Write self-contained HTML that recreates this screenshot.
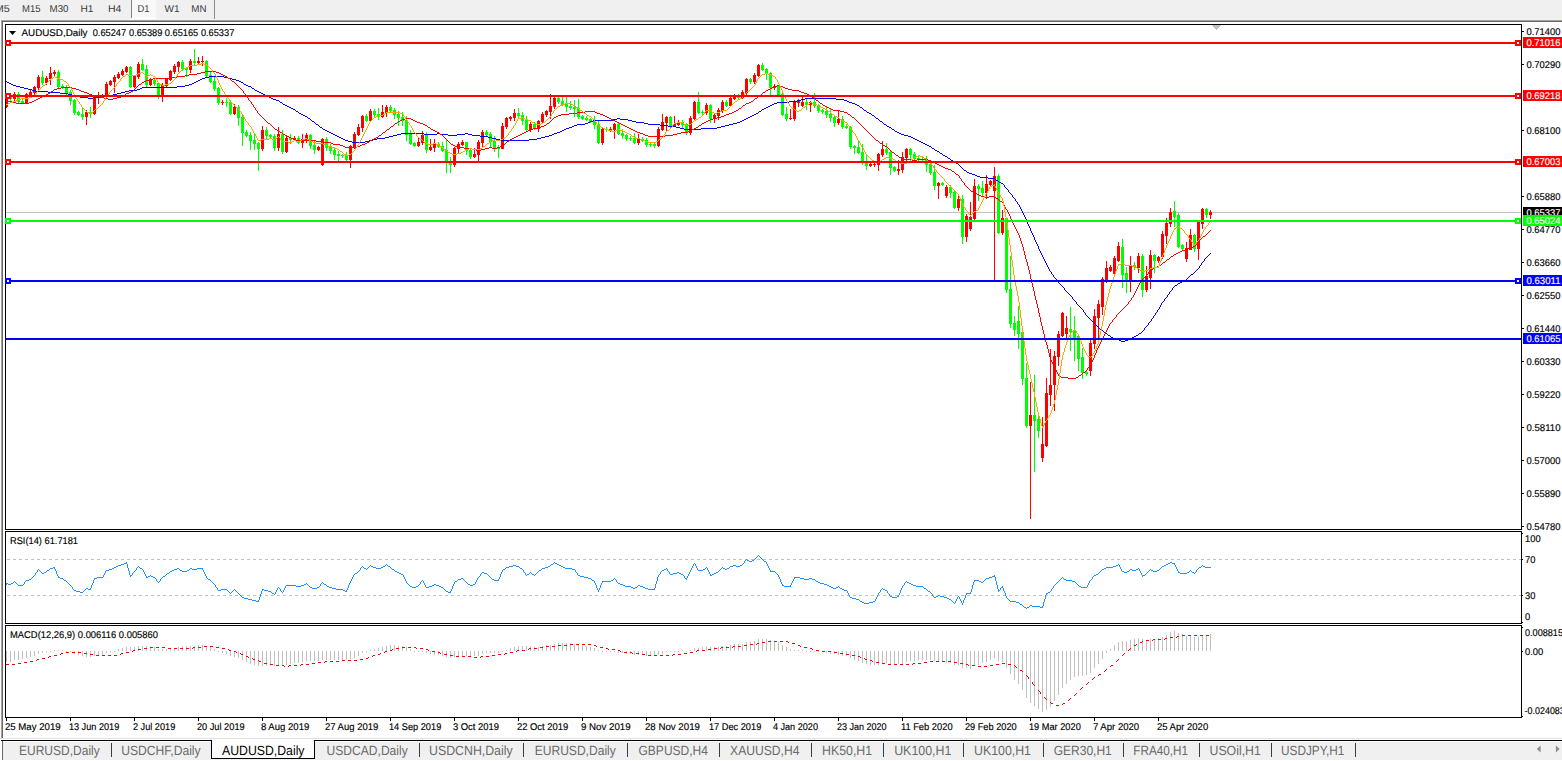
<!DOCTYPE html><html><head><meta charset="utf-8"><title>AUDUSD,Daily</title><style>
html,body{margin:0;padding:0}body{width:1562px;height:761px;overflow:hidden;position:relative;background:#fff;font-family:"Liberation Sans",sans-serif}
.tb{position:absolute;left:0;top:0;width:1562px;height:19px;background:#f0f0f0}
.tb span{position:absolute;top:2px;font-size:10.5px;color:#444;line-height:12px;white-space:nowrap}
.l{position:absolute}
.tab{position:absolute;top:743px;font-size:11.8px;line-height:14px;color:#6b6b6b;white-space:nowrap}
.sep{position:absolute;top:743px;width:1px;height:14px;background:#3c3c3c}
</style></head><body>
<div class="tb">
<div class="l" style="left:131px;top:0;width:1px;height:18px;background:#808080"></div>
<div class="l" style="left:132px;top:0;width:24px;height:18px;background:#f8f8f8"></div>
<div class="l" style="left:131px;top:18px;width:26px;height:1px;background:#fff"></div>
<div class="l" style="left:214px;top:0;width:1px;height:20px;background:#8a8a8a"></div>
</div>
<div class="l" style="left:0;top:19px;width:1562px;height:1px;background:#f4f4f4"></div>
<div class="l" style="left:1px;top:20px;width:1561px;height:1px;background:#a0a0a0"></div>
<div class="l" style="left:2px;top:21px;width:1560px;height:1px;background:#696969"></div>
<div class="l" style="left:1px;top:20px;width:1px;height:719px;background:#a0a0a0"></div>
<div class="l" style="left:2px;top:21px;width:1px;height:717px;background:#696969"></div>
<div class="l" style="left:0;top:738px;width:1562px;height:1px;background:#e3e3e3"></div>
<div class="l" style="left:1px;top:740px;width:1561px;height:1px;background:#000"></div>
<div class="l" style="left:3px;top:742px;width:1559px;height:18px;background:#f0f0f0"></div>
<div class="l" style="left:2px;top:741px;width:1px;height:19px;background:#696969"></div>
<div class="l" style="left:211px;top:740px;width:104px;height:19px;background:#fff;border:1px solid #000;border-top:none;box-sizing:border-box"></div>
<div class="sep" style="left:111px"></div>
<div class="sep" style="left:419px"></div>
<div class="sep" style="left:523px"></div>
<div class="sep" style="left:627px"></div>
<div class="sep" style="left:719px"></div>
<div class="sep" style="left:811px"></div>
<div class="sep" style="left:883px"></div>
<div class="sep" style="left:963px"></div>
<div class="sep" style="left:1043px"></div>
<div class="sep" style="left:1123px"></div>
<div class="sep" style="left:1199px"></div>
<div class="sep" style="left:1271px"></div>
<div class="sep" style="left:1355px"></div>
<svg class="l" style="left:1530px;top:742px" width="32" height="16" viewBox="1530 742 32 16"><polygon points="1536.8,749 1540.6,745.4 1540.6,752.6" fill="#8c8c8c"/><polygon points="1559.6,749 1555.9,745.4 1555.9,752.6" fill="#8c8c8c"/></svg>
<svg width="1562" height="761" viewBox="0 0 1562 761" style="position:absolute;left:0;top:0" shape-rendering="crispEdges">
<defs><clipPath id="cm"><rect x="6" y="25" width="1515" height="504"/></clipPath><clipPath id="cr"><rect x="6" y="532" width="1515" height="91"/></clipPath><clipPath id="cd"><rect x="6" y="626" width="1515" height="91"/></clipPath></defs>
<rect x="3" y="22" width="1559" height="716" fill="#fff"/>
<g clip-path="url(#cm)">
<rect x="1212" y="25" width="9" height="1" fill="#c0c0c0"/>
<rect x="1213" y="26" width="7" height="1" fill="#c0c0c0"/>
<rect x="1214" y="27" width="5" height="1" fill="#c0c0c0"/>
<rect x="1215" y="28" width="3" height="1" fill="#c0c0c0"/>
<rect x="1216" y="29" width="1" height="1" fill="#c0c0c0"/>
<rect x="6" y="212" width="1515" height="1" fill="#c0c0c0"/>
<rect x="6" y="94" width="1" height="14" fill="#f00"/>
<rect x="5" y="96" width="3" height="11" fill="#f00"/>
<rect x="10" y="94" width="1" height="7" fill="#0f0"/>
<rect x="9" y="96" width="3" height="3" fill="#0f0"/>
<rect x="14" y="92" width="1" height="9" fill="#f00"/>
<rect x="13" y="94" width="3" height="5" fill="#f00"/>
<rect x="18" y="92" width="1" height="11" fill="#0f0"/>
<rect x="17" y="94" width="3" height="8" fill="#0f0"/>
<rect x="22" y="99" width="1" height="5" fill="#0f0"/>
<rect x="21" y="101" width="3" height="2" fill="#0f0"/>
<rect x="26" y="93" width="1" height="11" fill="#f00"/>
<rect x="25" y="94" width="3" height="9" fill="#f00"/>
<rect x="30" y="90" width="1" height="7" fill="#f00"/>
<rect x="29" y="92" width="3" height="3" fill="#f00"/>
<rect x="34" y="86" width="1" height="9" fill="#f00"/>
<rect x="33" y="87" width="3" height="6" fill="#f00"/>
<rect x="38" y="75" width="1" height="15" fill="#f00"/>
<rect x="37" y="77" width="3" height="11" fill="#f00"/>
<rect x="42" y="71" width="1" height="14" fill="#0f0"/>
<rect x="41" y="77" width="3" height="6" fill="#0f0"/>
<rect x="46" y="76" width="1" height="9" fill="#f00"/>
<rect x="45" y="78" width="3" height="5" fill="#f00"/>
<rect x="50" y="67" width="1" height="18" fill="#f00"/>
<rect x="49" y="73" width="3" height="6" fill="#f00"/>
<rect x="54" y="70" width="1" height="6" fill="#f00"/>
<rect x="53" y="72" width="3" height="2" fill="#f00"/>
<rect x="58" y="70" width="1" height="18" fill="#0f0"/>
<rect x="57" y="72" width="3" height="15" fill="#0f0"/>
<rect x="62" y="84" width="1" height="5" fill="#0f0"/>
<rect x="61" y="86" width="3" height="2" fill="#0f0"/>
<rect x="66" y="85" width="1" height="10" fill="#0f0"/>
<rect x="65" y="87" width="3" height="6" fill="#0f0"/>
<rect x="70" y="90" width="1" height="15" fill="#0f0"/>
<rect x="69" y="92" width="3" height="9" fill="#0f0"/>
<rect x="74" y="99" width="1" height="16" fill="#0f0"/>
<rect x="73" y="100" width="3" height="13" fill="#0f0"/>
<rect x="78" y="111" width="1" height="5" fill="#0f0"/>
<rect x="77" y="112" width="3" height="3" fill="#0f0"/>
<rect x="82" y="108" width="1" height="12" fill="#0f0"/>
<rect x="81" y="114" width="3" height="3" fill="#0f0"/>
<rect x="86" y="110" width="1" height="15" fill="#f00"/>
<rect x="85" y="112" width="3" height="5" fill="#f00"/>
<rect x="90" y="107" width="1" height="11" fill="#0f0"/>
<rect x="89" y="112" width="3" height="2" fill="#0f0"/>
<rect x="94" y="96" width="1" height="19" fill="#f00"/>
<rect x="93" y="97" width="3" height="17" fill="#f00"/>
<rect x="98" y="92" width="1" height="12" fill="#f00"/>
<rect x="97" y="96" width="3" height="2" fill="#f00"/>
<rect x="102" y="94" width="1" height="4" fill="#f00"/>
<rect x="101" y="95" width="3" height="2" fill="#f00"/>
<rect x="106" y="82" width="1" height="15" fill="#f00"/>
<rect x="105" y="84" width="3" height="12" fill="#f00"/>
<rect x="110" y="80" width="1" height="6" fill="#f00"/>
<rect x="109" y="81" width="3" height="4" fill="#f00"/>
<rect x="114" y="75" width="1" height="18" fill="#f00"/>
<rect x="113" y="77" width="3" height="5" fill="#f00"/>
<rect x="118" y="72" width="1" height="7" fill="#f00"/>
<rect x="117" y="74" width="3" height="4" fill="#f00"/>
<rect x="122" y="69" width="1" height="7" fill="#f00"/>
<rect x="121" y="71" width="3" height="4" fill="#f00"/>
<rect x="126" y="66" width="1" height="7" fill="#f00"/>
<rect x="125" y="67" width="3" height="5" fill="#f00"/>
<rect x="130" y="66" width="1" height="22" fill="#0f0"/>
<rect x="129" y="67" width="3" height="20" fill="#0f0"/>
<rect x="134" y="75" width="1" height="13" fill="#f00"/>
<rect x="133" y="76" width="3" height="11" fill="#f00"/>
<rect x="138" y="62" width="1" height="17" fill="#f00"/>
<rect x="137" y="64" width="3" height="13" fill="#f00"/>
<rect x="142" y="59" width="1" height="12" fill="#0f0"/>
<rect x="141" y="64" width="3" height="6" fill="#0f0"/>
<rect x="146" y="65" width="1" height="23" fill="#0f0"/>
<rect x="145" y="69" width="3" height="16" fill="#0f0"/>
<rect x="150" y="78" width="1" height="8" fill="#f00"/>
<rect x="149" y="80" width="3" height="5" fill="#f00"/>
<rect x="154" y="78" width="1" height="8" fill="#0f0"/>
<rect x="153" y="80" width="3" height="4" fill="#0f0"/>
<rect x="158" y="82" width="1" height="17" fill="#0f0"/>
<rect x="157" y="83" width="3" height="13" fill="#0f0"/>
<rect x="162" y="83" width="1" height="19" fill="#f00"/>
<rect x="161" y="85" width="3" height="11" fill="#f00"/>
<rect x="166" y="78" width="1" height="9" fill="#f00"/>
<rect x="165" y="79" width="3" height="7" fill="#f00"/>
<rect x="170" y="70" width="1" height="11" fill="#f00"/>
<rect x="169" y="71" width="3" height="9" fill="#f00"/>
<rect x="174" y="64" width="1" height="10" fill="#f00"/>
<rect x="173" y="66" width="3" height="6" fill="#f00"/>
<rect x="178" y="61" width="1" height="11" fill="#f00"/>
<rect x="177" y="62" width="3" height="5" fill="#f00"/>
<rect x="182" y="60" width="1" height="11" fill="#0f0"/>
<rect x="181" y="62" width="3" height="7" fill="#0f0"/>
<rect x="186" y="68" width="1" height="9" fill="#0f0"/>
<rect x="185" y="68" width="3" height="2" fill="#0f0"/>
<rect x="190" y="59" width="1" height="14" fill="#f00"/>
<rect x="189" y="61" width="3" height="9" fill="#f00"/>
<rect x="194" y="49" width="1" height="16" fill="#0f0"/>
<rect x="193" y="61" width="3" height="2" fill="#0f0"/>
<rect x="198" y="57" width="1" height="7" fill="#f00"/>
<rect x="197" y="61" width="3" height="2" fill="#f00"/>
<rect x="202" y="56" width="1" height="10" fill="#f00"/>
<rect x="201" y="61" width="3" height="1" fill="#f00"/>
<rect x="206" y="60" width="1" height="17" fill="#0f0"/>
<rect x="205" y="61" width="3" height="15" fill="#0f0"/>
<rect x="210" y="72" width="1" height="11" fill="#0f0"/>
<rect x="209" y="75" width="3" height="7" fill="#0f0"/>
<rect x="214" y="76" width="1" height="15" fill="#0f0"/>
<rect x="213" y="81" width="3" height="8" fill="#0f0"/>
<rect x="218" y="87" width="1" height="18" fill="#0f0"/>
<rect x="217" y="88" width="3" height="15" fill="#0f0"/>
<rect x="222" y="100" width="1" height="5" fill="#f00"/>
<rect x="221" y="102" width="3" height="1" fill="#f00"/>
<rect x="226" y="98" width="1" height="9" fill="#0f0"/>
<rect x="225" y="102" width="3" height="1" fill="#0f0"/>
<rect x="230" y="100" width="1" height="15" fill="#0f0"/>
<rect x="229" y="102" width="3" height="12" fill="#0f0"/>
<rect x="234" y="104" width="1" height="11" fill="#f00"/>
<rect x="233" y="107" width="3" height="7" fill="#f00"/>
<rect x="238" y="105" width="1" height="21" fill="#0f0"/>
<rect x="237" y="107" width="3" height="11" fill="#0f0"/>
<rect x="242" y="115" width="1" height="31" fill="#0f0"/>
<rect x="241" y="117" width="3" height="16" fill="#0f0"/>
<rect x="246" y="130" width="1" height="7" fill="#0f0"/>
<rect x="245" y="132" width="3" height="4" fill="#0f0"/>
<rect x="250" y="132" width="1" height="18" fill="#0f0"/>
<rect x="249" y="135" width="3" height="6" fill="#0f0"/>
<rect x="254" y="134" width="1" height="16" fill="#0f0"/>
<rect x="253" y="140" width="3" height="4" fill="#0f0"/>
<rect x="258" y="142" width="1" height="29" fill="#0f0"/>
<rect x="257" y="143" width="3" height="6" fill="#0f0"/>
<rect x="262" y="126" width="1" height="25" fill="#f00"/>
<rect x="261" y="130" width="3" height="19" fill="#f00"/>
<rect x="266" y="127" width="1" height="12" fill="#0f0"/>
<rect x="265" y="130" width="3" height="6" fill="#0f0"/>
<rect x="270" y="134" width="1" height="5" fill="#0f0"/>
<rect x="269" y="135" width="3" height="2" fill="#0f0"/>
<rect x="274" y="134" width="1" height="17" fill="#0f0"/>
<rect x="273" y="136" width="3" height="12" fill="#0f0"/>
<rect x="278" y="127" width="1" height="24" fill="#f00"/>
<rect x="277" y="134" width="3" height="14" fill="#f00"/>
<rect x="282" y="130" width="1" height="24" fill="#0f0"/>
<rect x="281" y="134" width="3" height="18" fill="#0f0"/>
<rect x="286" y="136" width="1" height="17" fill="#f00"/>
<rect x="285" y="138" width="3" height="14" fill="#f00"/>
<rect x="290" y="134" width="1" height="10" fill="#0f0"/>
<rect x="289" y="138" width="3" height="2" fill="#0f0"/>
<rect x="294" y="136" width="1" height="5" fill="#f00"/>
<rect x="293" y="138" width="3" height="2" fill="#f00"/>
<rect x="298" y="136" width="1" height="8" fill="#0f0"/>
<rect x="297" y="138" width="3" height="5" fill="#0f0"/>
<rect x="302" y="134" width="1" height="14" fill="#f00"/>
<rect x="301" y="139" width="3" height="4" fill="#f00"/>
<rect x="306" y="133" width="1" height="10" fill="#f00"/>
<rect x="305" y="135" width="3" height="5" fill="#f00"/>
<rect x="310" y="134" width="1" height="15" fill="#0f0"/>
<rect x="309" y="135" width="3" height="11" fill="#0f0"/>
<rect x="314" y="140" width="1" height="14" fill="#0f0"/>
<rect x="313" y="145" width="3" height="5" fill="#0f0"/>
<rect x="318" y="146" width="1" height="5" fill="#f00"/>
<rect x="317" y="147" width="3" height="3" fill="#f00"/>
<rect x="322" y="138" width="1" height="28" fill="#f00"/>
<rect x="321" y="139" width="3" height="26" fill="#f00"/>
<rect x="326" y="137" width="1" height="14" fill="#0f0"/>
<rect x="325" y="139" width="3" height="9" fill="#0f0"/>
<rect x="330" y="144" width="1" height="10" fill="#0f0"/>
<rect x="329" y="147" width="3" height="4" fill="#0f0"/>
<rect x="334" y="148" width="1" height="12" fill="#0f0"/>
<rect x="333" y="150" width="3" height="5" fill="#0f0"/>
<rect x="338" y="151" width="1" height="11" fill="#0f0"/>
<rect x="337" y="154" width="3" height="2" fill="#0f0"/>
<rect x="342" y="154" width="1" height="4" fill="#0f0"/>
<rect x="341" y="155" width="3" height="1" fill="#0f0"/>
<rect x="346" y="152" width="1" height="10" fill="#0f0"/>
<rect x="345" y="155" width="3" height="5" fill="#0f0"/>
<rect x="350" y="145" width="1" height="23" fill="#f00"/>
<rect x="349" y="146" width="3" height="14" fill="#f00"/>
<rect x="354" y="132" width="1" height="17" fill="#f00"/>
<rect x="353" y="134" width="3" height="13" fill="#f00"/>
<rect x="358" y="124" width="1" height="12" fill="#f00"/>
<rect x="357" y="127" width="3" height="8" fill="#f00"/>
<rect x="362" y="115" width="1" height="17" fill="#f00"/>
<rect x="361" y="116" width="3" height="12" fill="#f00"/>
<rect x="366" y="114" width="1" height="8" fill="#0f0"/>
<rect x="365" y="116" width="3" height="5" fill="#0f0"/>
<rect x="370" y="109" width="1" height="13" fill="#f00"/>
<rect x="369" y="111" width="3" height="10" fill="#f00"/>
<rect x="374" y="109" width="1" height="8" fill="#0f0"/>
<rect x="373" y="111" width="3" height="4" fill="#0f0"/>
<rect x="378" y="108" width="1" height="12" fill="#0f0"/>
<rect x="377" y="114" width="3" height="3" fill="#0f0"/>
<rect x="382" y="105" width="1" height="13" fill="#f00"/>
<rect x="381" y="112" width="3" height="5" fill="#f00"/>
<rect x="386" y="105" width="1" height="12" fill="#f00"/>
<rect x="385" y="107" width="3" height="6" fill="#f00"/>
<rect x="390" y="105" width="1" height="7" fill="#0f0"/>
<rect x="389" y="107" width="3" height="4" fill="#0f0"/>
<rect x="394" y="108" width="1" height="11" fill="#0f0"/>
<rect x="393" y="110" width="3" height="5" fill="#0f0"/>
<rect x="398" y="111" width="1" height="15" fill="#0f0"/>
<rect x="397" y="114" width="3" height="4" fill="#0f0"/>
<rect x="402" y="112" width="1" height="14" fill="#0f0"/>
<rect x="401" y="117" width="3" height="4" fill="#0f0"/>
<rect x="406" y="116" width="1" height="25" fill="#0f0"/>
<rect x="405" y="120" width="3" height="15" fill="#0f0"/>
<rect x="410" y="130" width="1" height="15" fill="#0f0"/>
<rect x="409" y="134" width="3" height="10" fill="#0f0"/>
<rect x="414" y="142" width="1" height="5" fill="#0f0"/>
<rect x="413" y="143" width="3" height="3" fill="#0f0"/>
<rect x="418" y="138" width="1" height="9" fill="#f00"/>
<rect x="417" y="142" width="3" height="4" fill="#f00"/>
<rect x="422" y="131" width="1" height="14" fill="#f00"/>
<rect x="421" y="135" width="3" height="8" fill="#f00"/>
<rect x="426" y="132" width="1" height="21" fill="#0f0"/>
<rect x="425" y="135" width="3" height="15" fill="#0f0"/>
<rect x="430" y="139" width="1" height="12" fill="#f00"/>
<rect x="429" y="147" width="3" height="3" fill="#f00"/>
<rect x="434" y="139" width="1" height="13" fill="#f00"/>
<rect x="433" y="144" width="3" height="4" fill="#f00"/>
<rect x="438" y="142" width="1" height="6" fill="#0f0"/>
<rect x="437" y="144" width="3" height="3" fill="#0f0"/>
<rect x="442" y="142" width="1" height="10" fill="#0f0"/>
<rect x="441" y="146" width="3" height="5" fill="#0f0"/>
<rect x="446" y="140" width="1" height="33" fill="#0f0"/>
<rect x="445" y="150" width="3" height="12" fill="#0f0"/>
<rect x="450" y="157" width="1" height="16" fill="#0f0"/>
<rect x="449" y="161" width="3" height="4" fill="#0f0"/>
<rect x="454" y="147" width="1" height="20" fill="#f00"/>
<rect x="453" y="148" width="3" height="17" fill="#f00"/>
<rect x="458" y="142" width="1" height="11" fill="#f00"/>
<rect x="457" y="144" width="3" height="5" fill="#f00"/>
<rect x="462" y="140" width="1" height="6" fill="#f00"/>
<rect x="461" y="142" width="3" height="3" fill="#f00"/>
<rect x="466" y="142" width="1" height="13" fill="#0f0"/>
<rect x="465" y="142" width="3" height="9" fill="#0f0"/>
<rect x="470" y="149" width="1" height="10" fill="#0f0"/>
<rect x="469" y="150" width="3" height="7" fill="#0f0"/>
<rect x="474" y="148" width="1" height="10" fill="#f00"/>
<rect x="473" y="154" width="3" height="3" fill="#f00"/>
<rect x="478" y="140" width="1" height="23" fill="#f00"/>
<rect x="477" y="142" width="3" height="13" fill="#f00"/>
<rect x="482" y="130" width="1" height="18" fill="#f00"/>
<rect x="481" y="132" width="3" height="11" fill="#f00"/>
<rect x="486" y="130" width="1" height="6" fill="#0f0"/>
<rect x="485" y="132" width="3" height="3" fill="#0f0"/>
<rect x="490" y="132" width="1" height="16" fill="#0f0"/>
<rect x="489" y="134" width="3" height="8" fill="#0f0"/>
<rect x="494" y="136" width="1" height="16" fill="#0f0"/>
<rect x="493" y="141" width="3" height="7" fill="#0f0"/>
<rect x="498" y="145" width="1" height="13" fill="#0f0"/>
<rect x="497" y="147" width="3" height="2" fill="#0f0"/>
<rect x="502" y="123" width="1" height="26" fill="#f00"/>
<rect x="501" y="126" width="3" height="23" fill="#f00"/>
<rect x="506" y="117" width="1" height="12" fill="#f00"/>
<rect x="505" y="118" width="3" height="9" fill="#f00"/>
<rect x="510" y="116" width="1" height="5" fill="#f00"/>
<rect x="509" y="117" width="3" height="2" fill="#f00"/>
<rect x="514" y="109" width="1" height="12" fill="#f00"/>
<rect x="513" y="113" width="3" height="5" fill="#f00"/>
<rect x="518" y="108" width="1" height="11" fill="#0f0"/>
<rect x="517" y="113" width="3" height="3" fill="#0f0"/>
<rect x="522" y="112" width="1" height="13" fill="#0f0"/>
<rect x="521" y="115" width="3" height="6" fill="#0f0"/>
<rect x="526" y="116" width="1" height="15" fill="#0f0"/>
<rect x="525" y="120" width="3" height="10" fill="#0f0"/>
<rect x="530" y="122" width="1" height="10" fill="#f00"/>
<rect x="529" y="124" width="3" height="6" fill="#f00"/>
<rect x="534" y="122" width="1" height="8" fill="#0f0"/>
<rect x="533" y="124" width="3" height="5" fill="#0f0"/>
<rect x="538" y="120" width="1" height="12" fill="#f00"/>
<rect x="537" y="121" width="3" height="8" fill="#f00"/>
<rect x="542" y="112" width="1" height="12" fill="#f00"/>
<rect x="541" y="114" width="3" height="8" fill="#f00"/>
<rect x="546" y="110" width="1" height="7" fill="#f00"/>
<rect x="545" y="111" width="3" height="4" fill="#f00"/>
<rect x="550" y="94" width="1" height="25" fill="#f00"/>
<rect x="549" y="106" width="3" height="6" fill="#f00"/>
<rect x="554" y="97" width="1" height="12" fill="#f00"/>
<rect x="553" y="98" width="3" height="9" fill="#f00"/>
<rect x="558" y="97" width="1" height="7" fill="#0f0"/>
<rect x="557" y="98" width="3" height="4" fill="#0f0"/>
<rect x="562" y="97" width="1" height="9" fill="#0f0"/>
<rect x="561" y="101" width="3" height="4" fill="#0f0"/>
<rect x="566" y="97" width="1" height="15" fill="#0f0"/>
<rect x="565" y="104" width="3" height="3" fill="#0f0"/>
<rect x="570" y="101" width="1" height="9" fill="#0f0"/>
<rect x="569" y="106" width="3" height="2" fill="#0f0"/>
<rect x="574" y="100" width="1" height="17" fill="#0f0"/>
<rect x="573" y="107" width="3" height="2" fill="#0f0"/>
<rect x="578" y="99" width="1" height="20" fill="#0f0"/>
<rect x="577" y="108" width="3" height="9" fill="#0f0"/>
<rect x="582" y="115" width="1" height="5" fill="#0f0"/>
<rect x="581" y="116" width="3" height="3" fill="#0f0"/>
<rect x="586" y="116" width="1" height="5" fill="#0f0"/>
<rect x="585" y="118" width="3" height="2" fill="#0f0"/>
<rect x="590" y="118" width="1" height="5" fill="#0f0"/>
<rect x="589" y="119" width="3" height="3" fill="#0f0"/>
<rect x="594" y="116" width="1" height="13" fill="#0f0"/>
<rect x="593" y="121" width="3" height="4" fill="#0f0"/>
<rect x="598" y="121" width="1" height="23" fill="#0f0"/>
<rect x="597" y="124" width="3" height="19" fill="#0f0"/>
<rect x="602" y="127" width="1" height="18" fill="#f00"/>
<rect x="601" y="129" width="3" height="14" fill="#f00"/>
<rect x="606" y="127" width="1" height="5" fill="#0f0"/>
<rect x="605" y="129" width="3" height="1" fill="#0f0"/>
<rect x="610" y="127" width="1" height="5" fill="#f00"/>
<rect x="609" y="129" width="3" height="1" fill="#f00"/>
<rect x="614" y="123" width="1" height="16" fill="#f00"/>
<rect x="613" y="124" width="3" height="6" fill="#f00"/>
<rect x="618" y="123" width="1" height="12" fill="#0f0"/>
<rect x="617" y="124" width="3" height="10" fill="#0f0"/>
<rect x="622" y="129" width="1" height="10" fill="#0f0"/>
<rect x="621" y="133" width="3" height="3" fill="#0f0"/>
<rect x="626" y="134" width="1" height="7" fill="#0f0"/>
<rect x="625" y="135" width="3" height="4" fill="#0f0"/>
<rect x="630" y="136" width="1" height="5" fill="#0f0"/>
<rect x="629" y="138" width="3" height="1" fill="#0f0"/>
<rect x="634" y="133" width="1" height="11" fill="#0f0"/>
<rect x="633" y="138" width="3" height="5" fill="#0f0"/>
<rect x="638" y="134" width="1" height="11" fill="#f00"/>
<rect x="637" y="139" width="3" height="4" fill="#f00"/>
<rect x="642" y="137" width="1" height="5" fill="#0f0"/>
<rect x="641" y="139" width="3" height="2" fill="#0f0"/>
<rect x="646" y="138" width="1" height="9" fill="#0f0"/>
<rect x="645" y="140" width="3" height="5" fill="#0f0"/>
<rect x="650" y="142" width="1" height="5" fill="#0f0"/>
<rect x="649" y="144" width="3" height="1" fill="#0f0"/>
<rect x="654" y="143" width="1" height="5" fill="#0f0"/>
<rect x="653" y="144" width="3" height="2" fill="#0f0"/>
<rect x="658" y="127" width="1" height="20" fill="#f00"/>
<rect x="657" y="129" width="3" height="17" fill="#f00"/>
<rect x="662" y="114" width="1" height="17" fill="#f00"/>
<rect x="661" y="122" width="3" height="8" fill="#f00"/>
<rect x="666" y="116" width="1" height="15" fill="#f00"/>
<rect x="665" y="117" width="3" height="6" fill="#f00"/>
<rect x="670" y="116" width="1" height="13" fill="#0f0"/>
<rect x="669" y="117" width="3" height="9" fill="#0f0"/>
<rect x="674" y="116" width="1" height="11" fill="#f00"/>
<rect x="673" y="124" width="3" height="2" fill="#f00"/>
<rect x="678" y="120" width="1" height="6" fill="#f00"/>
<rect x="677" y="122" width="3" height="3" fill="#f00"/>
<rect x="682" y="120" width="1" height="8" fill="#0f0"/>
<rect x="681" y="122" width="3" height="3" fill="#0f0"/>
<rect x="686" y="123" width="1" height="12" fill="#0f0"/>
<rect x="685" y="124" width="3" height="9" fill="#0f0"/>
<rect x="690" y="116" width="1" height="19" fill="#f00"/>
<rect x="689" y="118" width="3" height="15" fill="#f00"/>
<rect x="694" y="101" width="1" height="19" fill="#f00"/>
<rect x="693" y="102" width="3" height="17" fill="#f00"/>
<rect x="698" y="92" width="1" height="22" fill="#0f0"/>
<rect x="697" y="102" width="3" height="11" fill="#0f0"/>
<rect x="702" y="110" width="1" height="5" fill="#0f0"/>
<rect x="701" y="112" width="3" height="1" fill="#0f0"/>
<rect x="706" y="103" width="1" height="12" fill="#f00"/>
<rect x="705" y="105" width="3" height="8" fill="#f00"/>
<rect x="710" y="104" width="1" height="19" fill="#0f0"/>
<rect x="709" y="105" width="3" height="14" fill="#0f0"/>
<rect x="714" y="113" width="1" height="10" fill="#f00"/>
<rect x="713" y="115" width="3" height="4" fill="#f00"/>
<rect x="718" y="108" width="1" height="12" fill="#f00"/>
<rect x="717" y="110" width="3" height="6" fill="#f00"/>
<rect x="722" y="100" width="1" height="13" fill="#f00"/>
<rect x="721" y="102" width="3" height="9" fill="#f00"/>
<rect x="726" y="100" width="1" height="7" fill="#0f0"/>
<rect x="725" y="102" width="3" height="4" fill="#0f0"/>
<rect x="730" y="96" width="1" height="11" fill="#f00"/>
<rect x="729" y="98" width="3" height="8" fill="#f00"/>
<rect x="734" y="94" width="1" height="6" fill="#f00"/>
<rect x="733" y="96" width="3" height="3" fill="#f00"/>
<rect x="738" y="94" width="1" height="5" fill="#0f0"/>
<rect x="737" y="96" width="3" height="2" fill="#0f0"/>
<rect x="742" y="90" width="1" height="9" fill="#f00"/>
<rect x="741" y="92" width="3" height="6" fill="#f00"/>
<rect x="746" y="78" width="1" height="17" fill="#f00"/>
<rect x="745" y="79" width="3" height="14" fill="#f00"/>
<rect x="750" y="78" width="1" height="6" fill="#0f0"/>
<rect x="749" y="79" width="3" height="3" fill="#0f0"/>
<rect x="754" y="73" width="1" height="11" fill="#f00"/>
<rect x="753" y="75" width="3" height="7" fill="#f00"/>
<rect x="758" y="64" width="1" height="13" fill="#f00"/>
<rect x="757" y="65" width="3" height="11" fill="#f00"/>
<rect x="762" y="63" width="1" height="8" fill="#0f0"/>
<rect x="761" y="65" width="3" height="5" fill="#0f0"/>
<rect x="766" y="68" width="1" height="12" fill="#0f0"/>
<rect x="765" y="69" width="3" height="5" fill="#0f0"/>
<rect x="770" y="72" width="1" height="24" fill="#0f0"/>
<rect x="769" y="73" width="3" height="15" fill="#0f0"/>
<rect x="774" y="84" width="1" height="6" fill="#f00"/>
<rect x="773" y="86" width="3" height="2" fill="#f00"/>
<rect x="778" y="86" width="1" height="10" fill="#0f0"/>
<rect x="777" y="86" width="3" height="9" fill="#0f0"/>
<rect x="782" y="92" width="1" height="24" fill="#0f0"/>
<rect x="781" y="94" width="3" height="21" fill="#0f0"/>
<rect x="786" y="107" width="1" height="14" fill="#0f0"/>
<rect x="785" y="114" width="3" height="5" fill="#0f0"/>
<rect x="790" y="109" width="1" height="11" fill="#f00"/>
<rect x="789" y="118" width="3" height="1" fill="#f00"/>
<rect x="794" y="100" width="1" height="21" fill="#f00"/>
<rect x="793" y="102" width="3" height="17" fill="#f00"/>
<rect x="798" y="99" width="1" height="8" fill="#f00"/>
<rect x="797" y="101" width="3" height="2" fill="#f00"/>
<rect x="802" y="97" width="1" height="10" fill="#f00"/>
<rect x="801" y="102" width="3" height="4" fill="#f00"/>
<rect x="806" y="98" width="1" height="12" fill="#0f0"/>
<rect x="805" y="102" width="3" height="3" fill="#0f0"/>
<rect x="810" y="101" width="1" height="11" fill="#f00"/>
<rect x="809" y="102" width="3" height="3" fill="#f00"/>
<rect x="814" y="93" width="1" height="15" fill="#0f0"/>
<rect x="813" y="102" width="3" height="4" fill="#0f0"/>
<rect x="818" y="104" width="1" height="9" fill="#0f0"/>
<rect x="817" y="105" width="3" height="6" fill="#0f0"/>
<rect x="822" y="109" width="1" height="5" fill="#0f0"/>
<rect x="821" y="110" width="3" height="2" fill="#0f0"/>
<rect x="826" y="107" width="1" height="11" fill="#0f0"/>
<rect x="825" y="111" width="3" height="4" fill="#0f0"/>
<rect x="830" y="109" width="1" height="13" fill="#0f0"/>
<rect x="829" y="114" width="3" height="4" fill="#0f0"/>
<rect x="834" y="115" width="1" height="12" fill="#0f0"/>
<rect x="833" y="117" width="3" height="6" fill="#0f0"/>
<rect x="838" y="110" width="1" height="15" fill="#f00"/>
<rect x="837" y="119" width="3" height="4" fill="#f00"/>
<rect x="842" y="116" width="1" height="13" fill="#0f0"/>
<rect x="841" y="119" width="3" height="8" fill="#0f0"/>
<rect x="846" y="124" width="1" height="5" fill="#0f0"/>
<rect x="845" y="126" width="3" height="2" fill="#0f0"/>
<rect x="850" y="126" width="1" height="23" fill="#0f0"/>
<rect x="849" y="127" width="3" height="20" fill="#0f0"/>
<rect x="854" y="145" width="1" height="9" fill="#0f0"/>
<rect x="853" y="146" width="3" height="2" fill="#0f0"/>
<rect x="858" y="140" width="1" height="14" fill="#0f0"/>
<rect x="857" y="147" width="3" height="6" fill="#0f0"/>
<rect x="862" y="144" width="1" height="21" fill="#0f0"/>
<rect x="861" y="152" width="3" height="11" fill="#0f0"/>
<rect x="866" y="155" width="1" height="15" fill="#0f0"/>
<rect x="865" y="162" width="3" height="4" fill="#0f0"/>
<rect x="870" y="163" width="1" height="4" fill="#f00"/>
<rect x="869" y="164" width="3" height="2" fill="#f00"/>
<rect x="874" y="162" width="1" height="5" fill="#f00"/>
<rect x="873" y="164" width="3" height="1" fill="#f00"/>
<rect x="878" y="153" width="1" height="18" fill="#f00"/>
<rect x="877" y="154" width="3" height="11" fill="#f00"/>
<rect x="882" y="141" width="1" height="16" fill="#f00"/>
<rect x="881" y="149" width="3" height="6" fill="#f00"/>
<rect x="886" y="143" width="1" height="12" fill="#0f0"/>
<rect x="885" y="149" width="3" height="4" fill="#0f0"/>
<rect x="890" y="150" width="1" height="25" fill="#0f0"/>
<rect x="889" y="152" width="3" height="16" fill="#0f0"/>
<rect x="894" y="166" width="1" height="6" fill="#0f0"/>
<rect x="893" y="167" width="3" height="4" fill="#0f0"/>
<rect x="898" y="160" width="1" height="15" fill="#f00"/>
<rect x="897" y="169" width="3" height="2" fill="#f00"/>
<rect x="902" y="152" width="1" height="21" fill="#f00"/>
<rect x="901" y="157" width="3" height="13" fill="#f00"/>
<rect x="906" y="148" width="1" height="14" fill="#f00"/>
<rect x="905" y="149" width="3" height="9" fill="#f00"/>
<rect x="910" y="148" width="1" height="12" fill="#0f0"/>
<rect x="909" y="149" width="3" height="6" fill="#0f0"/>
<rect x="914" y="152" width="1" height="9" fill="#0f0"/>
<rect x="913" y="154" width="3" height="5" fill="#0f0"/>
<rect x="918" y="156" width="1" height="5" fill="#0f0"/>
<rect x="917" y="158" width="3" height="2" fill="#0f0"/>
<rect x="922" y="157" width="1" height="5" fill="#0f0"/>
<rect x="921" y="159" width="3" height="1" fill="#0f0"/>
<rect x="926" y="156" width="1" height="16" fill="#0f0"/>
<rect x="925" y="159" width="3" height="6" fill="#0f0"/>
<rect x="930" y="160" width="1" height="15" fill="#0f0"/>
<rect x="929" y="164" width="3" height="9" fill="#0f0"/>
<rect x="934" y="165" width="1" height="25" fill="#0f0"/>
<rect x="933" y="172" width="3" height="14" fill="#0f0"/>
<rect x="938" y="182" width="1" height="17" fill="#f00"/>
<rect x="937" y="183" width="3" height="3" fill="#f00"/>
<rect x="942" y="182" width="1" height="4" fill="#0f0"/>
<rect x="941" y="183" width="3" height="2" fill="#0f0"/>
<rect x="946" y="185" width="1" height="13" fill="#f00"/>
<rect x="945" y="187" width="3" height="9" fill="#f00"/>
<rect x="950" y="185" width="1" height="13" fill="#0f0"/>
<rect x="949" y="187" width="3" height="6" fill="#0f0"/>
<rect x="954" y="190" width="1" height="19" fill="#0f0"/>
<rect x="953" y="192" width="3" height="16" fill="#0f0"/>
<rect x="958" y="195" width="1" height="16" fill="#f00"/>
<rect x="957" y="199" width="3" height="9" fill="#f00"/>
<rect x="962" y="195" width="1" height="49" fill="#0f0"/>
<rect x="961" y="199" width="3" height="38" fill="#0f0"/>
<rect x="966" y="214" width="1" height="28" fill="#f00"/>
<rect x="965" y="216" width="3" height="21" fill="#f00"/>
<rect x="970" y="202" width="1" height="29" fill="#f00"/>
<rect x="969" y="217" width="3" height="12" fill="#f00"/>
<rect x="974" y="179" width="1" height="41" fill="#f00"/>
<rect x="973" y="186" width="3" height="33" fill="#f00"/>
<rect x="978" y="184" width="1" height="17" fill="#0f0"/>
<rect x="977" y="186" width="3" height="3" fill="#0f0"/>
<rect x="982" y="181" width="1" height="15" fill="#0f0"/>
<rect x="981" y="188" width="3" height="5" fill="#0f0"/>
<rect x="986" y="175" width="1" height="24" fill="#f00"/>
<rect x="985" y="184" width="3" height="9" fill="#f00"/>
<rect x="990" y="180" width="1" height="6" fill="#f00"/>
<rect x="989" y="181" width="3" height="4" fill="#f00"/>
<rect x="994" y="167" width="1" height="114" fill="#f00"/>
<rect x="993" y="176" width="3" height="15" fill="#f00"/>
<rect x="998" y="174" width="1" height="60" fill="#0f0"/>
<rect x="997" y="176" width="3" height="57" fill="#0f0"/>
<rect x="1002" y="210" width="1" height="25" fill="#f00"/>
<rect x="1001" y="218" width="3" height="15" fill="#f00"/>
<rect x="1006" y="217" width="1" height="76" fill="#0f0"/>
<rect x="1005" y="218" width="3" height="72" fill="#0f0"/>
<rect x="1010" y="256" width="1" height="72" fill="#0f0"/>
<rect x="1009" y="289" width="3" height="35" fill="#0f0"/>
<rect x="1014" y="316" width="1" height="20" fill="#0f0"/>
<rect x="1013" y="323" width="3" height="7" fill="#0f0"/>
<rect x="1018" y="306" width="1" height="43" fill="#0f0"/>
<rect x="1017" y="321" width="3" height="13" fill="#0f0"/>
<rect x="1022" y="326" width="1" height="59" fill="#0f0"/>
<rect x="1021" y="332" width="3" height="47" fill="#0f0"/>
<rect x="1026" y="363" width="1" height="65" fill="#0f0"/>
<rect x="1025" y="378" width="3" height="48" fill="#0f0"/>
<rect x="1030" y="382" width="1" height="137" fill="#f00"/>
<rect x="1029" y="415" width="3" height="11" fill="#f00"/>
<rect x="1034" y="375" width="1" height="97" fill="#0f0"/>
<rect x="1033" y="415" width="3" height="6" fill="#0f0"/>
<rect x="1038" y="415" width="1" height="23" fill="#0f0"/>
<rect x="1037" y="419" width="3" height="12" fill="#0f0"/>
<rect x="1042" y="417" width="1" height="45" fill="#f00"/>
<rect x="1041" y="444" width="3" height="14" fill="#f00"/>
<rect x="1046" y="378" width="1" height="69" fill="#f00"/>
<rect x="1045" y="393" width="3" height="53" fill="#f00"/>
<rect x="1050" y="349" width="1" height="57" fill="#f00"/>
<rect x="1049" y="385" width="3" height="10" fill="#f00"/>
<rect x="1054" y="351" width="1" height="60" fill="#f00"/>
<rect x="1053" y="356" width="3" height="29" fill="#f00"/>
<rect x="1058" y="331" width="1" height="35" fill="#f00"/>
<rect x="1057" y="334" width="3" height="23" fill="#f00"/>
<rect x="1062" y="312" width="1" height="25" fill="#f00"/>
<rect x="1061" y="313" width="3" height="23" fill="#f00"/>
<rect x="1066" y="316" width="1" height="23" fill="#f00"/>
<rect x="1065" y="328" width="3" height="6" fill="#f00"/>
<rect x="1070" y="307" width="1" height="44" fill="#0f0"/>
<rect x="1069" y="329" width="3" height="3" fill="#0f0"/>
<rect x="1074" y="316" width="1" height="45" fill="#0f0"/>
<rect x="1073" y="331" width="3" height="8" fill="#0f0"/>
<rect x="1078" y="335" width="1" height="36" fill="#0f0"/>
<rect x="1077" y="336" width="3" height="23" fill="#0f0"/>
<rect x="1082" y="348" width="1" height="31" fill="#0f0"/>
<rect x="1081" y="357" width="3" height="16" fill="#0f0"/>
<rect x="1086" y="370" width="1" height="6" fill="#0f0"/>
<rect x="1085" y="372" width="3" height="2" fill="#0f0"/>
<rect x="1090" y="340" width="1" height="36" fill="#f00"/>
<rect x="1089" y="343" width="3" height="28" fill="#f00"/>
<rect x="1094" y="309" width="1" height="40" fill="#f00"/>
<rect x="1093" y="316" width="3" height="28" fill="#f00"/>
<rect x="1098" y="300" width="1" height="38" fill="#f00"/>
<rect x="1097" y="304" width="3" height="14" fill="#f00"/>
<rect x="1102" y="277" width="1" height="38" fill="#f00"/>
<rect x="1101" y="279" width="3" height="28" fill="#f00"/>
<rect x="1106" y="261" width="1" height="22" fill="#f00"/>
<rect x="1105" y="268" width="3" height="13" fill="#f00"/>
<rect x="1110" y="265" width="1" height="7" fill="#f00"/>
<rect x="1109" y="267" width="3" height="4" fill="#f00"/>
<rect x="1114" y="256" width="1" height="19" fill="#f00"/>
<rect x="1113" y="258" width="3" height="16" fill="#f00"/>
<rect x="1118" y="242" width="1" height="20" fill="#f00"/>
<rect x="1117" y="246" width="3" height="15" fill="#f00"/>
<rect x="1122" y="239" width="1" height="49" fill="#0f0"/>
<rect x="1121" y="247" width="3" height="28" fill="#0f0"/>
<rect x="1126" y="267" width="1" height="26" fill="#0f0"/>
<rect x="1125" y="273" width="3" height="8" fill="#0f0"/>
<rect x="1130" y="256" width="1" height="36" fill="#f00"/>
<rect x="1129" y="265" width="3" height="16" fill="#f00"/>
<rect x="1134" y="262" width="1" height="8" fill="#0f0"/>
<rect x="1133" y="265" width="3" height="2" fill="#0f0"/>
<rect x="1138" y="253" width="1" height="20" fill="#f00"/>
<rect x="1137" y="256" width="3" height="12" fill="#f00"/>
<rect x="1142" y="254" width="1" height="43" fill="#0f0"/>
<rect x="1141" y="256" width="3" height="34" fill="#0f0"/>
<rect x="1146" y="266" width="1" height="26" fill="#f00"/>
<rect x="1145" y="276" width="3" height="14" fill="#f00"/>
<rect x="1150" y="250" width="1" height="39" fill="#f00"/>
<rect x="1149" y="255" width="3" height="23" fill="#f00"/>
<rect x="1154" y="254" width="1" height="19" fill="#0f0"/>
<rect x="1153" y="255" width="3" height="6" fill="#0f0"/>
<rect x="1158" y="256" width="1" height="7" fill="#f00"/>
<rect x="1157" y="257" width="3" height="4" fill="#f00"/>
<rect x="1162" y="231" width="1" height="28" fill="#f00"/>
<rect x="1161" y="234" width="3" height="23" fill="#f00"/>
<rect x="1166" y="218" width="1" height="26" fill="#f00"/>
<rect x="1165" y="223" width="3" height="13" fill="#f00"/>
<rect x="1170" y="208" width="1" height="19" fill="#f00"/>
<rect x="1169" y="212" width="3" height="12" fill="#f00"/>
<rect x="1174" y="201" width="1" height="26" fill="#0f0"/>
<rect x="1173" y="211" width="3" height="6" fill="#0f0"/>
<rect x="1178" y="213" width="1" height="35" fill="#0f0"/>
<rect x="1177" y="215" width="3" height="32" fill="#0f0"/>
<rect x="1182" y="244" width="1" height="7" fill="#0f0"/>
<rect x="1181" y="245" width="3" height="4" fill="#0f0"/>
<rect x="1186" y="242" width="1" height="20" fill="#f00"/>
<rect x="1185" y="248" width="3" height="11" fill="#f00"/>
<rect x="1190" y="229" width="1" height="21" fill="#f00"/>
<rect x="1189" y="235" width="3" height="15" fill="#f00"/>
<rect x="1194" y="234" width="1" height="18" fill="#0f0"/>
<rect x="1193" y="235" width="3" height="14" fill="#0f0"/>
<rect x="1198" y="222" width="1" height="38" fill="#f00"/>
<rect x="1197" y="222" width="3" height="27" fill="#f00"/>
<rect x="1202" y="208" width="1" height="21" fill="#f00"/>
<rect x="1201" y="209" width="3" height="15" fill="#f00"/>
<rect x="1206" y="208" width="1" height="10" fill="#0f0"/>
<rect x="1205" y="209" width="3" height="6" fill="#0f0"/>
<rect x="1210" y="210" width="1" height="9" fill="#f00"/>
<rect x="1209" y="212" width="3" height="3" fill="#f00"/>
<path d="M2 79.5h1M3 80.5h2M5 81.5h2M7 82.5h2M9 83.5h2M11 84.5h2M13 85.5h3M16 86.5h4M20 87.5h4M24 88.5h4M28 89.5h4M32 90.5h4M36 91.5h12M48 92.5h12M60 93.5h8M68 94.5h4M72 95.5h4M76 96.5h4M80 97.5h8M88 98.5h5M93 97.5h8M101 96.5h8M109 95.5h4M113 94.5h4M117 93.5h4M121 92.5h4M125 91.5h4M129 90.5h8M137 89.5h3M140 88.5h2M142 87.5h35M177 86.5h8M185 85.5h4M189 84.5h3M192 83.5h2M194 82.5h2M196 81.5h2M198 80.5h2M200 79.5h2M202 78.5h3M205 77.5h4M209 76.5h15M224 77.5h4M228 78.5h4M232 79.5h4M236 80.5h3M239 81.5h2M241 82.5h2M243 83.5h1M244 84.5h2M246 85.5h2M248 86.5h3M251 87.5h1M252 88.5h2M254 89.5h1M255 90.5h2M257 91.5h2M259 92.5h2M261 93.5h2M263 94.5h2M265 95.5h2M267 96.5h2M269 97.5h2M271 98.5h2M273 99.5h3M276 100.5h3M279 101.5h1M280 102.5h2M282 103.5h1M283 104.5h2M285 105.5h2M287 106.5h2M289 107.5h2M291 108.5h2M293 109.5h2M295 110.5h1M296 111.5h2M298 112.5h1M299 113.5h2M301 114.5h2M303 115.5h2M305 116.5h2M307 117.5h1M308 118.5h2M310 119.5h1M311 120.5h1M312 121.5h2M314 122.5h1M315 123.5h1M316 124.5h2M318 125.5h1M319 126.5h1M320 127.5h2M322 128.5h1M323 129.5h2M325 130.5h2M327 131.5h2M329 132.5h2M331 133.5h2M333 134.5h2M335 135.5h2M337 136.5h2M339 137.5h2M341 138.5h2M343 139.5h2M345 140.5h3M348 141.5h4M352 142.5h13M365 141.5h4M369 140.5h4M373 139.5h4M377 138.5h8M385 137.5h4M389 136.5h4M393 135.5h4M397 134.5h4M401 133.5h23M424 134.5h13M437 133.5h3M440 134.5h8M448 135.5h9M457 134.5h8M465 133.5h3M468 134.5h4M472 135.5h8M480 136.5h8M488 137.5h4M492 138.5h4M496 139.5h4M500 140.5h29M529 139.5h8M537 138.5h4M541 137.5h4M545 136.5h4M549 135.5h3M552 134.5h2M554 133.5h3M557 132.5h3M560 131.5h2M562 130.5h2M564 129.5h2M566 128.5h3M569 127.5h3M572 126.5h2M574 125.5h3M577 124.5h8M585 123.5h3M588 122.5h2M590 121.5h3M593 120.5h20M613 119.5h4M617 118.5h3M620 119.5h8M628 120.5h4M632 121.5h4M636 122.5h8M644 123.5h4M648 124.5h12M660 125.5h8M668 126.5h8M676 127.5h4M680 128.5h4M684 129.5h17M701 128.5h16M717 127.5h4M721 126.5h4M725 125.5h4M729 124.5h4M733 123.5h4M737 122.5h3M740 121.5h2M742 120.5h2M744 119.5h2M746 118.5h2M748 117.5h2M750 116.5h2M752 115.5h2M754 114.5h2M756 113.5h2M758 112.5h1M759 111.5h2M761 110.5h1M762 109.5h2M764 108.5h2M766 107.5h2M768 106.5h2M770 105.5h2M772 104.5h2M774 103.5h3M777 102.5h12M789 101.5h8M797 100.5h4M801 99.5h4M805 98.5h31M836 99.5h8M844 100.5h3M847 101.5h2M849 102.5h3M852 103.5h3M855 104.5h2M857 105.5h2M859 106.5h1M860 107.5h2M862 108.5h1M863 109.5h1M864 110.5h2M866 111.5h1M867 112.5h2M869 113.5h2M871 114.5h1M872 115.5h2M874 116.5h1M875 117.5h1M876 118.5h2M878 119.5h1M879 120.5h1M880 121.5h2M882 122.5h1M883 123.5h1M884 124.5h2M886 125.5h1M887 126.5h2M889 127.5h2M891 128.5h1M892 129.5h2M894 130.5h1M895 131.5h2M897 132.5h2M899 133.5h2M901 134.5h3M904 135.5h4M908 136.5h3M911 137.5h2M913 138.5h2M915 139.5h2M917 140.5h2M919 141.5h2M921 142.5h2M923 143.5h2M925 144.5h2M927 145.5h2M929 146.5h2M931 147.5h1M932 148.5h2M934 149.5h1M935 150.5h2M937 151.5h2M939 152.5h1M940 153.5h2M942 154.5h1M943 155.5h2M945 156.5h2M947 157.5h1M948 158.5h2M950 159.5h1M951 160.5h2M953 161.5h2M955 162.5h1M956 163.5h2M958 164.5h1M959 165.5h1M960 166.5h1M961 167.5h1M962 168.5h1M963 169.5h1M964 170.5h2M966 171.5h1M967 172.5h2M969 173.5h3M972 174.5h3M975 175.5h2M977 176.5h3M980 177.5h8M988 178.5h7M995 179.5h1M996 180.5h2M998 181.5h1M999 182.5h2M1001 183.5h2M1003 184.5h1M1004.5 185v2M1005 187.5h1M1006 188.5h1M1007 189.5h1M1008.5 190v2M1009 192.5h1M1010 193.5h1M1011 194.5h1M1012.5 195v2M1013 197.5h1M1014 198.5h1M1015.5 199v2M1016 201.5h1M1017.5 202v2M1018 204.5h1M1019.5 205v2M1020.5 207v2M1021.5 209v2M1022.5 211v2M1023.5 213v2M1024.5 215v2M1025.5 217v2M1026.5 219v3M1027.5 222v2M1028.5 224v2M1029.5 226v2M1030.5 228v3M1031.5 231v2M1032.5 233v2M1033.5 235v2M1034.5 237v3M1035.5 240v2M1036.5 242v2M1037.5 244v2M1038.5 246v3M1039.5 249v2M1040.5 251v2M1041.5 253v2M1042.5 255v2M1043.5 257v2M1044.5 259v2M1045.5 261v2M1046.5 263v2M1047.5 265v2M1048.5 267v2M1049.5 269v2M1050 271.5h1M1051.5 272v2M1052 274.5h1M1053.5 275v2M1054 277.5h1M1055 278.5h1M1056.5 279v2M1057 281.5h1M1058 282.5h1M1059 283.5h1M1060 284.5h1M1061 285.5h1M1062 286.5h1M1063 287.5h1M1064.5 288v2M1065 290.5h1M1066 291.5h1M1067 292.5h1M1068 293.5h1M1069 294.5h1M1070 295.5h1M1071 296.5h1M1072.5 297v2M1073 299.5h1M1074 300.5h1M1075 301.5h1M1076.5 302v2M1077 304.5h1M1078 305.5h1M1079 306.5h1M1080 307.5h1M1081 308.5h1M1082 309.5h1M1083.5 310v2M1084 312.5h1M1085.5 313v2M1086 315.5h1M1087 316.5h1M1088 317.5h1M1089 318.5h1M1090 319.5h1M1091 320.5h1M1092 321.5h1M1093 322.5h1M1094 323.5h1M1095 324.5h1M1096 325.5h1M1097 326.5h1M1098 327.5h1M1099 328.5h1M1100 329.5h2M1102 330.5h1M1103 331.5h1M1104 332.5h2M1106 333.5h1M1107 334.5h1M1108 335.5h2M1110 336.5h1M1111 337.5h2M1113 338.5h3M1116 339.5h3M1119 340.5h2M1121 341.5h4M1125 340.5h3M1128 339.5h2M1130 338.5h2M1132 337.5h2M1134 336.5h2M1136 335.5h2M1138 334.5h1M1139 333.5h2M1141 332.5h1M1142 331.5h1M1143 330.5h1M1144.5 328v2M1145 327.5h1M1146 326.5h1M1147 325.5h1M1148.5 323v2M1149 322.5h1M1150 321.5h1M1151.5 319v2M1152 318.5h1M1153.5 316v2M1154 315.5h1M1155.5 313v2M1156 312.5h1M1157.5 310v2M1158 309.5h1M1159.5 307v2M1160.5 305v2M1161.5 303v2M1162 302.5h1M1163 301.5h1M1164.5 299v2M1165 298.5h1M1166 297.5h1M1167.5 295v2M1168 294.5h1M1169.5 292v2M1170 291.5h1M1171 290.5h1M1172.5 288v2M1173 287.5h1M1174 286.5h1M1175 285.5h2M1177 284.5h1M1178 283.5h2M1180 282.5h2M1182 281.5h2M1184 280.5h2M1186 279.5h1M1187 278.5h1M1188 277.5h1M1189 276.5h1M1190 275.5h1M1191 274.5h2M1193 273.5h1M1194 272.5h1M1195 271.5h1M1196 270.5h1M1197 269.5h1M1198 268.5h1M1199.5 266v2M1200 265.5h1M1201.5 263v2M1202 262.5h1M1203 261.5h1M1204.5 259v2M1205 258.5h1M1206 257.5h1M1207 256.5h1M1208 255.5h1M1209 254.5h1M1210 253.5h1" fill="none" stroke="#00f" stroke-width="1"/>
<path d="M2 99.5h2M4 100.5h4M8 101.5h4M12 102.5h4M16 103.5h13M29 102.5h3M32 101.5h2M34 100.5h2M36 99.5h2M38 98.5h2M40 97.5h2M42 96.5h2M44 95.5h2M46 94.5h2M48 93.5h2M50 92.5h1M51 91.5h2M53 90.5h1M54 89.5h3M57 88.5h4M61 87.5h11M72 88.5h4M76 89.5h3M79 90.5h2M81 91.5h3M84 92.5h3M87 93.5h2M89 94.5h3M92 95.5h4M96 96.5h4M100 97.5h4M104 98.5h4M108 99.5h5M113 98.5h4M117 97.5h4M121 96.5h2M123 95.5h2M125 94.5h1M126 93.5h3M129 92.5h2M131 91.5h2M133 90.5h1M134 89.5h1M135 88.5h1M136 87.5h1M137 86.5h1M138 85.5h1M139 84.5h2M141 83.5h1M142 82.5h2M144 81.5h2M146 80.5h3M149 79.5h4M153 78.5h16M169 77.5h8M177 76.5h8M185 75.5h4M189 74.5h8M197 73.5h4M201 72.5h4M205 71.5h11M216 72.5h3M219 73.5h2M221 74.5h2M223 75.5h2M225 76.5h2M227 77.5h1M228 78.5h2M230 79.5h1M231 80.5h1M232 81.5h2M234 82.5h1M235 83.5h1M236 84.5h1M237 85.5h1M238 86.5h1M239 87.5h1M240 88.5h1M241 89.5h1M242 90.5h1M243.5 91v2M244 93.5h1M245.5 94v2M246 96.5h1M247 97.5h1M248.5 98v2M249 100.5h1M250 101.5h1M251.5 102v2M252 104.5h1M253.5 105v2M254 107.5h1M255.5 108v2M256 110.5h1M257.5 111v2M258 113.5h1M259 114.5h1M260 115.5h1M261 116.5h1M262 117.5h1M263 118.5h1M264 119.5h1M265 120.5h1M266 121.5h1M267 122.5h1M268 123.5h2M270 124.5h1M271 125.5h1M272 126.5h1M273 127.5h1M274 128.5h1M275 129.5h2M277 130.5h2M279 131.5h1M280 132.5h2M282 133.5h1M283 134.5h2M285 135.5h2M287 136.5h2M289 137.5h2M291 138.5h2M293 139.5h3M296 140.5h20M316 141.5h8M324 142.5h7M331 143.5h2M333 144.5h7M340 145.5h3M343 146.5h2M345 147.5h12M357 146.5h3M360 145.5h2M362 144.5h3M365 143.5h2M367 142.5h2M369 141.5h1M370 140.5h2M372 139.5h2M374 138.5h2M376 137.5h2M378 136.5h1M379 135.5h2M381 134.5h1M382 133.5h1M383 132.5h2M385 131.5h1M386 130.5h1M387 129.5h2M389 128.5h1M390 127.5h1M391 126.5h2M393 125.5h1M394 124.5h1M395 123.5h2M397 122.5h1M398 121.5h2M400 120.5h2M402 119.5h3M405 118.5h6M411 119.5h2M413 120.5h2M415 121.5h2M417 122.5h3M420 123.5h3M423 124.5h2M425 125.5h2M427 126.5h1M428 127.5h2M430 128.5h1M431 129.5h2M433 130.5h2M435 131.5h2M437 132.5h2M439 133.5h1M440 134.5h2M442 135.5h1M443 136.5h1M444 137.5h1M445 138.5h1M446 139.5h1M447 140.5h1M448 141.5h1M449 142.5h1M450 143.5h1M451 144.5h2M453 145.5h2M455 146.5h2M457 147.5h7M464 148.5h8M472 149.5h4M476 150.5h5M481 149.5h4M485 148.5h4M489 147.5h3M492 148.5h5M497 147.5h3M500 146.5h2M502 145.5h1M503 144.5h2M505 143.5h1M506 142.5h1M507 141.5h2M509 140.5h1M510 139.5h2M512 138.5h2M514 137.5h2M516 136.5h2M518 135.5h2M520 134.5h2M522 133.5h2M524 132.5h2M526 131.5h2M528 130.5h2M530 129.5h3M533 128.5h4M537 127.5h4M541 126.5h3M544 125.5h2M546 124.5h1M547 123.5h2M549 122.5h1M550 121.5h1M551 120.5h1M552 119.5h1M553 118.5h1M554 117.5h2M556 116.5h2M558 115.5h3M561 114.5h8M569 113.5h8M577 112.5h8M585 111.5h10M595 112.5h2M597 113.5h3M600 114.5h3M603 115.5h2M605 116.5h2M607 117.5h2M609 118.5h2M611 119.5h2M613 120.5h2M615 121.5h2M617 122.5h2M619 123.5h2M621 124.5h2M623 125.5h2M625 126.5h2M627 127.5h2M629 128.5h2M631 129.5h2M633 130.5h2M635 131.5h2M637 132.5h3M640 133.5h3M643 134.5h2M645 135.5h3M648 136.5h17M665 135.5h8M673 134.5h4M677 133.5h4M681 132.5h7M688 131.5h2M690 130.5h2M692 129.5h2M694 128.5h2M696 127.5h2M698 126.5h1M699 125.5h2M701 124.5h1M702 123.5h2M704 122.5h2M706 121.5h2M708 120.5h2M710 119.5h3M713 118.5h4M717 117.5h4M721 116.5h3M724 115.5h2M726 114.5h3M729 113.5h3M732 112.5h2M734 111.5h2M736 110.5h2M738 109.5h1M739 108.5h2M741 107.5h1M742 106.5h1M743 105.5h2M745 104.5h1M746 103.5h3M749 102.5h2M751 101.5h2M753 100.5h1M754 99.5h1M755 98.5h2M757 97.5h1M758 96.5h1M759 95.5h2M761 94.5h1M762 93.5h1M763 92.5h2M765 91.5h1M766 90.5h2M768 89.5h2M770 88.5h2M772 87.5h2M774 86.5h3M777 85.5h3M780 86.5h3M783 87.5h2M785 88.5h3M788 89.5h4M792 90.5h7M799 91.5h2M801 92.5h3M804 93.5h3M807 94.5h2M809 95.5h2M811 96.5h1M812 97.5h2M814 98.5h1M815 99.5h1M816 100.5h2M818 101.5h1M819 102.5h1M820 103.5h2M822 104.5h1M823 105.5h2M825 106.5h2M827 107.5h2M829 108.5h2M831 109.5h2M833 110.5h7M840 111.5h4M844 112.5h3M847 113.5h1M848 114.5h2M850 115.5h1M851 116.5h1M852 117.5h2M854 118.5h1M855 119.5h1M856 120.5h1M857 121.5h1M858 122.5h1M859 123.5h1M860 124.5h1M861 125.5h1M862 126.5h1M863 127.5h1M864 128.5h1M865 129.5h1M866 130.5h1M867 131.5h1M868 132.5h1M869 133.5h1M870 134.5h1M871 135.5h1M872 136.5h1M873 137.5h1M874 138.5h1M875 139.5h1M876 140.5h2M878 141.5h1M879 142.5h1M880 143.5h2M882 144.5h1M883 145.5h2M885 146.5h2M887 147.5h1M888 148.5h1M889 149.5h1M890 150.5h1M891 151.5h1M892 152.5h2M894 153.5h1M895 154.5h1M896 155.5h2M898 156.5h1M899 157.5h2M901 158.5h3M904 159.5h8M912 160.5h5M917 159.5h11M928 160.5h3M931 161.5h2M933 162.5h2M935 163.5h2M937 164.5h2M939 165.5h2M941 166.5h2M943 167.5h2M945 168.5h3M948 169.5h3M951 170.5h1M952 171.5h2M954 172.5h1M955 173.5h1M956 174.5h2M958 175.5h1M959.5 176v2M960 178.5h1M961.5 179v2M962 181.5h1M963 182.5h1M964.5 183v2M965 185.5h1M966 186.5h1M967 187.5h1M968 188.5h1M969 189.5h1M970 190.5h1M971 191.5h2M973 192.5h2M975 193.5h2M977 194.5h2M979 195.5h2M981 196.5h3M984 197.5h5M989 196.5h6M995 197.5h1M996 198.5h2M998 199.5h1M999 200.5h1M1000 201.5h2M1002 202.5h1M1003.5 203v2M1004.5 205v2M1005.5 207v2M1006 209.5h1M1007.5 210v2M1008.5 212v2M1009.5 214v2M1010.5 216v3M1011.5 219v2M1012.5 221v2M1013.5 223v2M1014.5 225v2M1015.5 227v2M1016.5 229v2M1017.5 231v2M1018.5 233v2M1019.5 235v3M1020.5 238v3M1021.5 241v3M1022.5 244v3M1023.5 247v4M1024.5 251v4M1025.5 255v4M1026.5 259v3M1027.5 262v4M1028.5 266v4M1029.5 270v4M1030.5 274v5M1031.5 279v4M1032.5 283v4M1033.5 287v4M1034.5 291v5M1035.5 296v4M1036.5 300v4M1037.5 304v4M1038.5 308v5M1039.5 313v4M1040.5 317v5M1041.5 322v4M1042.5 326v4M1043.5 330v4M1044.5 334v4M1045.5 338v4M1046.5 342v3M1047.5 345v4M1048.5 349v4M1049.5 353v4M1050.5 357v3M1051.5 360v2M1052.5 362v2M1053.5 364v2M1054.5 366v2M1055.5 368v2M1056.5 370v2M1057.5 372v2M1058.5 374v2M1059 376.5h2M1061 377.5h7M1068 378.5h8M1076 377.5h2M1078 376.5h1M1079 375.5h2M1081 374.5h1M1082 373.5h1M1083 372.5h2M1085 371.5h1M1086 370.5h1M1087.5 368v2M1088 367.5h1M1089.5 365v2M1090 364.5h1M1091.5 362v2M1092.5 360v2M1093.5 358v2M1094.5 355v3M1095.5 353v2M1096.5 350v3M1097.5 348v2M1098.5 346v2M1099.5 344v2M1100.5 342v2M1101.5 340v2M1102.5 338v2M1103.5 336v2M1104.5 334v2M1105.5 332v2M1106.5 330v2M1107.5 328v2M1108.5 326v2M1109.5 324v2M1110 323.5h1M1111 322.5h1M1112.5 320v2M1113 319.5h1M1114 318.5h1M1115 317.5h1M1116.5 315v2M1117 314.5h1M1118 313.5h1M1119 312.5h1M1120 311.5h1M1121 310.5h1M1122 309.5h1M1123 308.5h1M1124 307.5h1M1125 306.5h1M1126 305.5h1M1127 304.5h1M1128.5 302v2M1129 301.5h1M1130 300.5h1M1131.5 298v2M1132 297.5h1M1133.5 295v2M1134.5 293v2M1135.5 291v2M1136.5 289v2M1137.5 287v2M1138.5 285v2M1139.5 283v2M1140 282.5h1M1141.5 280v2M1142 279.5h1M1143 278.5h1M1144 277.5h1M1145 276.5h1M1146 275.5h1M1147 274.5h1M1148.5 272v2M1149 271.5h1M1150 270.5h1M1151 269.5h2M1153 268.5h1M1154 267.5h3M1157 266.5h2M1159 265.5h2M1161 264.5h1M1162 263.5h1M1163 262.5h2M1165 261.5h1M1166 260.5h1M1167 259.5h2M1169 258.5h1M1170 257.5h1M1171 256.5h2M1173 255.5h1M1174 254.5h2M1176 253.5h2M1178 252.5h2M1180 251.5h2M1182 250.5h3M1185 249.5h3M1188 248.5h2M1190 247.5h3M1193 246.5h2M1195 245.5h1M1196.5 243v2M1197 242.5h1M1198 241.5h1M1199 240.5h1M1200 239.5h1M1201 238.5h1M1202 237.5h1M1203 236.5h2M1205 235.5h1M1206 234.5h1M1207 233.5h1M1208 232.5h1M1209 231.5h1M1210 230.5h1" fill="none" stroke="#f00" stroke-width="1"/>
<path d="M2 105.5h3M5 104.5h3M8 103.5h2M10 102.5h3M13 101.5h3M16 100.5h2M18 99.5h3M21 98.5h8M29 97.5h3M32 96.5h2M34 95.5h1M35 94.5h1M36.5 92v2M37 91.5h1M38 90.5h1M39 89.5h1M40 88.5h1M41 87.5h1M42 86.5h1M43 85.5h2M45 84.5h1M46 83.5h1M47 82.5h1M48 81.5h1M49 80.5h1M50 79.5h1M51 78.5h2M53 77.5h1M54 76.5h1M55 77.5h2M57 78.5h3M60 79.5h3M63 80.5h1M64 81.5h2M66 82.5h1M67 83.5h1M68.5 84v2M69 86.5h1M70 87.5h1M71.5 88v2M72.5 90v2M73.5 92v2M74.5 94v2M75.5 96v2M76 98.5h1M77.5 99v2M78 101.5h1M79.5 102v2M80 104.5h1M81.5 105v2M82 107.5h1M83 108.5h1M84 109.5h1M85 110.5h1M86 111.5h1M87 112.5h2M89 113.5h2M91 112.5h2M93 111.5h1M94 110.5h1M95 109.5h2M97 108.5h1M98 107.5h1M99 106.5h1M100 105.5h1M101 104.5h1M102 103.5h1M103.5 101v2M104 100.5h1M105.5 98v2M106 97.5h1M107.5 95v2M108 94.5h1M109.5 92v2M110 91.5h1M111 90.5h1M112 89.5h1M113 88.5h1M114 87.5h1M115 86.5h1M116.5 84v2M117 83.5h1M118 82.5h1M119 81.5h1M120.5 79v2M121 78.5h1M122 77.5h1M123 76.5h2M125 75.5h1M126 74.5h2M128 75.5h8M136 74.5h2M138 73.5h3M141 72.5h2M143 73.5h1M144 74.5h1M145 75.5h1M146 76.5h2M148 75.5h2M150 74.5h1M151 75.5h2M153 76.5h2M155.5 77v2M156 79.5h1M157.5 80v2M158 82.5h1M159 83.5h1M160 84.5h2M162 85.5h3M165 84.5h4M169 83.5h2M171 82.5h1M172 81.5h1M173 80.5h1M174 79.5h1M175.5 77v2M176 76.5h1M177.5 74v2M178 73.5h1M179 72.5h1M180 71.5h1M181 70.5h1M182 69.5h2M184 68.5h2M186 67.5h2M188 66.5h2M190 65.5h7M197 64.5h4M201 63.5h3M204 64.5h3M207 65.5h1M208 66.5h1M209 67.5h1M210 68.5h1M211 69.5h1M212.5 70v2M213 72.5h1M214 73.5h1M215.5 74v2M216.5 76v2M217.5 78v2M218.5 80v3M219.5 83v2M220.5 85v2M221.5 87v2M222.5 89v2M223 91.5h1M224.5 92v2M225 94.5h1M226 95.5h1M227.5 96v2M228 98.5h1M229.5 99v2M230 101.5h1M231 102.5h1M232 103.5h1M233 104.5h1M234 105.5h1M235 106.5h1M236 107.5h2M238 108.5h1M239.5 109v2M240 111.5h1M241.5 112v2M242 114.5h1M243.5 115v2M244.5 117v2M245.5 119v2M246 121.5h1M247 122.5h1M248.5 123v2M249 125.5h1M250 126.5h1M251.5 127v2M252.5 129v2M253.5 131v2M254 133.5h1M255.5 134v2M256.5 136v2M257.5 138v2M258 140.5h3M261 139.5h8M269 138.5h3M272 139.5h3M275 138.5h2M277 137.5h1M278 136.5h1M279 137.5h1M280.5 138v2M281 140.5h1M282 141.5h6M288 142.5h4M292 141.5h2M294 140.5h2M296 141.5h4M300 140.5h2M302 139.5h3M305 138.5h2M307 139.5h2M309 140.5h2M311 141.5h2M313 142.5h3M316 143.5h7M323 144.5h2M325 145.5h3M328 146.5h4M332 147.5h3M335 148.5h2M337 149.5h2M339 150.5h1M340 151.5h2M342 152.5h1M343 153.5h1M344 154.5h2M346 155.5h3M349 154.5h2M351 153.5h1M352 152.5h1M353 151.5h1M354 150.5h1M355.5 148v2M356 147.5h1M357.5 145v2M358 144.5h1M359.5 142v2M360.5 140v2M361.5 138v2M362.5 136v2M363.5 134v2M364.5 132v2M365.5 130v2M366.5 128v2M367.5 126v2M368.5 124v2M369.5 122v2M370 121.5h1M371 120.5h1M372 119.5h1M373 118.5h1M374 117.5h2M376 116.5h2M378 115.5h5M383 114.5h2M385 113.5h1M386 112.5h14M400 113.5h3M403.5 114v2M404 116.5h1M405.5 117v2M406 119.5h1M407.5 120v2M408 122.5h1M409.5 123v2M410 125.5h1M411.5 126v2M412.5 128v2M413.5 130v2M414 132.5h1M415 133.5h1M416.5 134v2M417 136.5h1M418 137.5h1M419 138.5h1M420 139.5h2M422 140.5h1M423 141.5h1M424 142.5h2M426 143.5h2M428 144.5h5M433 143.5h3M436 144.5h3M439 145.5h1M440 146.5h2M442 147.5h1M443 148.5h1M444 149.5h2M446 150.5h1M447 151.5h1M448 152.5h2M450 153.5h2M452 154.5h5M457 153.5h4M461 152.5h2M463 151.5h2M465 150.5h1M466 149.5h3M469 148.5h3M472 149.5h8M480 148.5h2M482 147.5h1M483 146.5h2M485 145.5h1M486 144.5h1M487 143.5h2M489 142.5h1M490 141.5h2M492 140.5h2M494 139.5h2M496 140.5h5M501 139.5h2M503 138.5h2M505 137.5h1M506 136.5h1M507 135.5h1M508.5 133v2M509 132.5h1M510 131.5h1M511.5 129v2M512 128.5h1M513.5 126v2M514 125.5h1M515.5 123v2M516.5 121v2M517.5 119v2M518 118.5h3M521 117.5h2M523 118.5h2M525 119.5h3M528 120.5h3M531 121.5h1M532 122.5h2M534 123.5h2M536 124.5h5M541 123.5h2M543 122.5h2M545 121.5h1M546 120.5h1M547 119.5h1M548 118.5h1M549 117.5h1M550 116.5h1M551.5 114v2M552 113.5h1M553.5 111v2M554 110.5h1M555 109.5h1M556 108.5h1M557 107.5h1M558 106.5h2M560 105.5h2M562 104.5h3M565 103.5h6M571 104.5h2M573 105.5h2M575 106.5h1M576 107.5h2M578 108.5h1M579 109.5h1M580 110.5h2M582 111.5h1M583 112.5h1M584 113.5h2M586 114.5h1M587 115.5h2M589 116.5h2M591 117.5h1M592 118.5h1M593 119.5h1M594 120.5h1M595 121.5h1M596.5 122v2M597 124.5h1M598 125.5h1M599 126.5h2M601 127.5h2M603 128.5h2M605 129.5h3M608 130.5h4M612 131.5h4M616 130.5h2M618 129.5h2M620 130.5h3M623 131.5h2M625 132.5h2M627 133.5h2M629 134.5h2M631 135.5h1M632 136.5h2M634 137.5h2M636 138.5h4M640 139.5h3M643 140.5h2M645 141.5h3M648 142.5h8M656 141.5h2M658 140.5h1M659 139.5h2M661 138.5h1M662 137.5h1M663.5 135v2M664 134.5h1M665.5 132v2M666 131.5h1M667 130.5h2M669 129.5h1M670 128.5h1M671 127.5h1M672.5 125v2M673 124.5h1M674 123.5h3M677 122.5h6M683 123.5h1M684 124.5h2M686 125.5h3M689 124.5h2M691 123.5h1M692 122.5h1M693 121.5h1M694 120.5h2M696 119.5h2M698 118.5h1M699 117.5h2M701 116.5h1M702 115.5h1M703 114.5h1M704.5 112v2M705 111.5h1M706 110.5h5M711 111.5h1M712 112.5h2M714 113.5h3M717 112.5h3M720 111.5h2M722 110.5h5M727 109.5h1M728 108.5h1M729 107.5h1M730 106.5h1M731 105.5h1M732 104.5h1M733 103.5h1M734 102.5h1M735 101.5h2M737 100.5h1M738 99.5h2M740 98.5h2M742 97.5h1M743 96.5h1M744.5 94v2M745 93.5h1M746 92.5h1M747 91.5h2M749 90.5h1M750 89.5h1M751 88.5h1M752 87.5h1M753 86.5h1M754 85.5h1M755.5 83v2M756.5 81v2M757.5 79v2M758 78.5h1M759 77.5h1M760 76.5h1M761 75.5h1M762 74.5h3M765 73.5h3M768 74.5h3M771 75.5h2M773 76.5h2M775.5 77v2M776 79.5h1M777.5 80v2M778.5 82v2M779.5 84v2M780.5 86v2M781.5 88v2M782.5 90v3M783.5 93v2M784.5 95v2M785.5 97v2M786.5 99v2M787.5 101v2M788 103.5h1M789.5 104v2M790 106.5h1M791 107.5h1M792 108.5h2M794 109.5h1M795 110.5h2M797 111.5h2M799 110.5h2M801 109.5h1M802 108.5h1M803 107.5h2M805 106.5h1M806 105.5h1M807 104.5h2M809 103.5h1M810 102.5h2M812 103.5h3M815 104.5h2M817 105.5h2M819 106.5h2M821 107.5h2M823 108.5h2M825 109.5h2M827 110.5h1M828 111.5h2M830 112.5h1M831 113.5h1M832 114.5h2M834 115.5h1M835 116.5h2M837 117.5h2M839 118.5h1M840 119.5h2M842 120.5h1M843 121.5h2M845 122.5h2M847.5 123v2M848 125.5h1M849.5 126v2M850 128.5h1M851 129.5h1M852.5 130v2M853 132.5h1M854 133.5h1M855.5 134v2M856.5 136v2M857.5 138v2M858 140.5h1M859.5 141v2M860.5 143v2M861.5 145v2M862 147.5h1M863.5 148v2M864.5 150v2M865.5 152v2M866 154.5h1M867 155.5h1M868 156.5h1M869 157.5h1M870 158.5h1M871 159.5h1M872 160.5h2M874 161.5h2M876 162.5h3M879 161.5h2M881 160.5h1M882 159.5h2M884 158.5h2M886 157.5h5M891 158.5h2M893 159.5h2M895 160.5h1M896 161.5h2M898 162.5h2M900 163.5h7M907 162.5h2M909 161.5h1M910 160.5h1M911 159.5h2M913 158.5h1M914 157.5h2M916 156.5h2M918 155.5h2M920 156.5h3M923 157.5h1M924 158.5h2M926 159.5h1M927 160.5h1M928 161.5h2M930 162.5h1M931.5 163v2M932 165.5h1M933.5 166v2M934 168.5h1M935 169.5h1M936.5 170v2M937 172.5h1M938 173.5h1M939 174.5h1M940 175.5h1M941 176.5h1M942 177.5h1M943 178.5h1M944.5 179v2M945 181.5h1M946 182.5h1M947 183.5h1M948 184.5h1M949 185.5h1M950 186.5h1M951 187.5h1M952 188.5h1M953 189.5h1M954 190.5h1M955 191.5h1M956 192.5h1M957 193.5h1M958.5 194v2M959.5 196v2M960.5 198v3M961.5 201v2M962.5 203v2M963.5 205v2M964 207.5h1M965.5 208v2M966 210.5h1M967 211.5h1M968.5 212v2M969 214.5h1M970 215.5h1M971 214.5h1M972 213.5h1M973 212.5h1M974 211.5h2M976 210.5h2M978.5 208v2M979.5 206v2M980.5 204v2M981.5 202v2M982.5 200v2M983.5 198v2M984.5 196v2M985.5 194v2M986 193.5h1M987.5 191v2M988.5 189v2M989.5 187v2M990 186.5h2M992 185.5h2M994.5 184v2M995.5 186v2M996.5 188v2M997.5 190v2M998.5 192v2M999 194.5h1M1000.5 195v2M1001 197.5h1M1002.5 198v3M1003.5 201v5M1004.5 206v6M1005.5 212v5M1006.5 217v6M1007.5 223v7M1008.5 230v8M1009.5 238v7M1010.5 245v7M1011.5 252v8M1012.5 260v7M1013.5 267v8M1014.5 275v6M1015.5 281v5M1016.5 286v5M1017.5 291v5M1018.5 296v6M1019.5 302v8M1020.5 310v8M1021.5 318v8M1022.5 326v8M1023.5 334v7M1024.5 341v7M1025.5 348v7M1026.5 355v6M1027.5 361v4M1028.5 365v5M1029.5 370v4M1030.5 374v5M1031.5 379v4M1032.5 383v5M1033.5 388v4M1034.5 392v5M1035.5 397v5M1036.5 402v5M1037.5 407v5M1038.5 412v4M1039.5 416v3M1040.5 419v4M1041.5 423v3M1042.5 426v2M1043.5 425v2M1044.5 423v2M1045.5 421v2M1046 420.5h1M1047.5 418v2M1048 417.5h1M1049.5 415v2M1050.5 413v2M1051.5 410v3M1052.5 407v3M1053.5 404v3M1054.5 400v4M1055.5 395v5M1056.5 390v5M1057.5 385v5M1058.5 379v6M1059.5 373v6M1060.5 366v7M1061.5 360v6M1062.5 355v5M1063.5 352v3M1064.5 348v4M1065.5 345v3M1066.5 342v3M1067.5 340v2M1068.5 337v3M1069.5 335v2M1070.5 333v2M1071 332.5h1M1072 331.5h1M1073 330.5h1M1074 329.5h1M1075 330.5h1M1076.5 331v2M1077 333.5h1M1078.5 334v2M1079.5 336v3M1080.5 339v2M1081.5 341v3M1082.5 344v3M1083.5 347v2M1084.5 349v2M1085.5 351v2M1086.5 353v2M1087 355.5h1M1088 356.5h2M1090 357.5h1M1091 356.5h1M1092.5 354v2M1093 353.5h1M1094.5 351v2M1095.5 349v2M1096.5 346v3M1097.5 344v2M1098.5 340v4M1099.5 335v5M1100.5 331v4M1101.5 326v5M1102.5 321v5M1103.5 316v5M1104.5 310v6M1105.5 305v5M1106.5 301v4M1107.5 297v4M1108.5 293v4M1109.5 289v4M1110.5 286v3M1111.5 283v3M1112.5 280v3M1113.5 277v3M1114.5 274v3M1115.5 271v3M1116.5 269v2M1117.5 266v3M1118.5 264v2M1119 264.5h2M1121 263.5h2M1123 264.5h2M1125 265.5h7M1132 266.5h3M1135 267.5h2M1137 268.5h2M1139 269.5h1M1140 270.5h2M1142 271.5h3M1145 270.5h3M1148 269.5h2M1150 268.5h3M1153 267.5h6M1158 266.5h1M1159.5 263v3M1160.5 261v2M1161.5 258v3M1162.5 255v3M1163.5 253v2M1164.5 250v3M1165.5 248v2M1166.5 245v3M1167.5 243v2M1168.5 241v2M1169.5 239v2M1170.5 236v3M1171.5 234v2M1172.5 232v2M1173.5 230v2M1174.5 228v2M1175 228.5h1M1176 227.5h2M1178 226.5h1M1179 227.5h1M1180 228.5h2M1182 229.5h1M1183 230.5h1M1184.5 231v2M1185 233.5h1M1186 234.5h1M1187 235.5h1M1188.5 236v2M1189 238.5h1M1190 239.5h1M1191.5 240v2M1192 242.5h1M1193.5 243v2M1194 245.5h1M1195 244.5h1M1196.5 242v2M1197 241.5h1M1198 240.5h1M1199.5 238v2M1200.5 236v2M1201.5 234v2M1202.5 232v2M1203.5 230v2M1204 229.5h1M1205.5 227v2M1206 226.5h1M1207 225.5h1M1208.5 223v2M1209 222.5h1M1210 221.5h1" fill="none" stroke="#ffa500" stroke-width="1"/>
<rect x="6" y="42" width="1515" height="2" fill="#f00"/>
<rect x="6" y="95" width="1515" height="2" fill="#f00"/>
<rect x="6" y="161" width="1515" height="2" fill="#f00"/>
<rect x="6" y="220" width="1515" height="2" fill="#0f0"/>
<rect x="6" y="280" width="1515" height="2" fill="#00f"/>
<rect x="6" y="338" width="1515" height="2" fill="#00f"/>
</g>
<g clip-path="url(#cr)">
<line x1="7" x2="1521" y1="559.5" y2="559.5" stroke="#c0c0c0" stroke-width="1" stroke-dasharray="3 3"/>
<line x1="7" x2="1521" y1="595.5" y2="595.5" stroke="#c0c0c0" stroke-width="1" stroke-dasharray="3 3"/>
<path d="M2 591.5h1M3.5 589v2M4.5 587v2M5.5 585v2M6.5 583v2M7 583.5h1M8 584.5h3M11 583.5h2M13 582.5h1M14 581.5h1M15 582.5h1M16 583.5h1M17 584.5h1M18 585.5h5M23 584.5h1M24.5 582v2M25 581.5h1M26 580.5h3M29 579.5h2M31 578.5h1M32 577.5h1M33 576.5h1M34 575.5h1M35.5 573v2M36 572.5h1M37.5 570v2M38 569.5h1M39 570.5h1M40 571.5h1M41 572.5h1M42 573.5h2M44 572.5h2M46 571.5h1M47 570.5h2M49 569.5h1M50 568.5h3M53 567.5h2M54 568.5h1M55.5 569v2M56.5 571v3M57.5 574v2M58.5 576v2M59 577.5h1M60 578.5h3M63 579.5h1M64 580.5h2M66 581.5h1M67 582.5h1M68 583.5h1M69 584.5h1M70 585.5h1M71 586.5h1M72.5 587v2M73 589.5h1M74 590.5h2M76 591.5h4M80 592.5h3M83 591.5h1M84 590.5h1M85 589.5h1M86 588.5h2M88 589.5h3M90 588.5h1M91.5 585v3M92.5 583v2M93.5 580v3M94.5 578v2M95 578.5h2M97 577.5h6M103.5 575v2M104.5 573v2M105.5 571v2M106 570.5h3M109 569.5h3M112 568.5h2M114 567.5h2M116 566.5h2M118 565.5h3M121 564.5h3M124 563.5h2M126.5 562v2M127.5 564v4M128.5 568v3M129.5 571v4M130.5 575v2M131 575.5h1M132.5 573v2M133 572.5h1M134 571.5h1M135 570.5h1M136.5 568v2M137 567.5h1M138 566.5h1M139 567.5h1M140 568.5h2M142 569.5h1M143.5 570v2M144.5 572v2M145.5 574v2M146.5 576v2M147 577.5h1M148 576.5h2M150 575.5h1M151 576.5h2M153 577.5h2M155 578.5h1M156.5 579v2M157 581.5h1M158 582.5h1M159 581.5h1M160.5 579v2M161 578.5h1M162 577.5h1M163 576.5h2M165 575.5h1M166 574.5h1M167 573.5h2M169 572.5h1M170 571.5h2M172 570.5h2M174 569.5h3M177 568.5h2M179 569.5h1M180 570.5h2M182 571.5h5M187 570.5h2M189 569.5h1M190 568.5h2M192 569.5h5M197 568.5h6M202 569.5h1M203.5 570v2M204.5 572v2M205.5 574v2M206.5 576v2M207 578.5h1M208 579.5h2M210 580.5h1M211 581.5h1M212 582.5h1M213 583.5h1M214 584.5h1M215.5 585v2M216 587.5h1M217.5 588v2M218 590.5h3M221 589.5h6M227 590.5h1M228 591.5h1M229 592.5h1M230 593.5h1M231 592.5h1M232 591.5h1M233 590.5h1M234 589.5h1M235 590.5h1M236 591.5h1M237 592.5h1M238 593.5h1M239 594.5h1M240 595.5h1M241 596.5h1M242 597.5h2M244 598.5h4M248 599.5h4M252 600.5h4M256 601.5h3M258 600.5h1M259.5 597v3M260.5 594v3M261.5 591v3M262.5 589v2M263 589.5h1M264 590.5h4M268 591.5h3M271 592.5h1M272 593.5h2M274 594.5h1M275.5 592v2M276.5 590v2M277.5 588v2M278 587.5h1M279 588.5h1M280.5 589v2M281 591.5h1M282 592.5h1M283.5 590v2M284.5 588v2M285.5 586v2M286 585.5h10M296 586.5h5M301 585.5h3M304 584.5h2M306 583.5h1M307 584.5h1M308 585.5h1M309 586.5h1M310 587.5h2M312 588.5h5M317 587.5h2M319 586.5h1M320.5 584v2M321 583.5h1M322 582.5h1M323 583.5h1M324 584.5h2M326 585.5h1M327 586.5h2M329 587.5h3M332 588.5h4M336 589.5h7M343 590.5h2M345 591.5h2M346 590.5h1M347.5 588v2M348.5 585v3M349.5 583v2M350.5 581v2M351.5 579v2M352.5 577v2M353.5 575v2M354 574.5h1M355 573.5h2M357 572.5h1M358 571.5h1M359 570.5h1M360.5 568v2M361 567.5h1M362 566.5h1M363 567.5h1M364 568.5h2M366 569.5h1M367 568.5h1M368 567.5h1M369 566.5h1M370 565.5h1M371 566.5h2M373 567.5h3M376 568.5h5M381 567.5h2M383 566.5h2M385 565.5h1M386 564.5h1M387 565.5h1M388 566.5h2M390 567.5h1M391 568.5h1M392 569.5h2M394 570.5h1M395 571.5h2M397 572.5h2M399 573.5h2M401 574.5h2M403.5 575v2M404.5 577v2M405.5 579v2M406.5 581v2M407 583.5h1M408 584.5h1M409 585.5h1M410 586.5h2M412 587.5h4M416 586.5h2M418 585.5h1M419 584.5h1M420.5 582v2M421 581.5h1M422 580.5h1M423.5 581v2M424.5 583v2M425.5 585v2M426 587.5h3M429 586.5h3M432 585.5h2M434 584.5h2M436 585.5h3M439 586.5h2M441 587.5h2M443 588.5h1M444 589.5h1M445 590.5h1M446 591.5h2M448 592.5h3M450 591.5h1M451.5 589v2M452.5 586v3M453.5 584v2M454.5 582v2M455 581.5h2M457 580.5h1M458 579.5h3M461 578.5h2M463 579.5h1M464 580.5h1M465 581.5h1M466 582.5h1M467 583.5h1M468 584.5h2M470 585.5h3M473 584.5h2M475.5 582v2M476.5 580v2M477.5 578v2M478 577.5h1M479 576.5h1M480.5 574v2M481 573.5h1M482 572.5h2M484 573.5h3M487 574.5h1M488 575.5h1M489 576.5h1M490 577.5h1M491 578.5h1M492 579.5h2M494 580.5h5M498 579.5h1M499.5 577v2M500.5 574v3M501.5 572v2M502.5 570v2M503 569.5h2M505 568.5h1M506 567.5h3M509 566.5h4M513 565.5h3M516 566.5h3M519 567.5h1M520 568.5h2M522 569.5h1M523.5 570v2M524 572.5h1M525.5 573v2M526 575.5h1M527 574.5h2M529 573.5h1M530 572.5h1M531 573.5h1M532 574.5h2M534 575.5h1M535 574.5h1M536 573.5h1M537 572.5h1M538 571.5h1M539 570.5h2M541 569.5h1M542 568.5h3M545 567.5h3M548 566.5h2M550 565.5h1M551 564.5h2M553 563.5h1M554 562.5h1M555 563.5h2M557 564.5h2M559 565.5h2M561 566.5h2M563 567.5h2M565 568.5h7M572 569.5h3M575.5 570v2M576 572.5h1M577.5 573v2M578 575.5h2M580 576.5h4M584 577.5h4M588 578.5h3M591 579.5h1M592 580.5h2M594.5 581v2M595.5 583v2M596.5 585v3M597.5 588v2M598.5 590v2M598 590.5h1M599.5 588v2M600.5 585v3M601.5 583v2M602.5 581v2M603 581.5h8M611 580.5h2M613 579.5h1M614 578.5h1M615 579.5h1M616.5 580v2M617 582.5h1M618 583.5h2M620 584.5h3M623 585.5h2M625 586.5h6M631 587.5h2M633 588.5h2M635 587.5h2M637 586.5h1M638 585.5h2M640 586.5h3M643 587.5h2M645 588.5h3M648 589.5h7M654 588.5h1M655.5 584v4M656.5 581v3M657.5 577v4M658.5 575v2M659 574.5h1M660.5 572v2M661 571.5h1M662 570.5h2M664 569.5h2M666 568.5h1M667.5 569v2M668 571.5h1M669.5 572v2M670 574.5h3M673 573.5h4M677 572.5h2M679 573.5h2M681 574.5h2M683 575.5h1M684.5 576v2M685 578.5h1M686.5 578v2M687.5 576v2M688.5 574v2M689.5 572v2M690.5 570v2M691.5 568v2M692.5 566v2M693.5 564v2M694 563.5h1M695.5 564v2M696.5 566v2M697.5 568v2M698 570.5h5M703 569.5h2M705 568.5h1M706 567.5h1M707.5 568v2M708.5 570v2M709.5 572v2M710.5 574v2M711 575.5h1M712 574.5h2M714 573.5h2M716 572.5h2M718 571.5h1M719 570.5h1M720 569.5h1M721 568.5h1M722 567.5h1M723 568.5h2M725 569.5h2M727 568.5h2M729 567.5h1M730 566.5h3M733 565.5h3M736 566.5h4M740 565.5h2M742 564.5h1M743 563.5h1M744.5 561v2M745 560.5h1M746 559.5h1M747 560.5h2M749 561.5h3M752 560.5h2M754 559.5h1M755 558.5h1M756 557.5h1M757 556.5h1M758 555.5h1M759 556.5h1M760 557.5h1M761 558.5h1M762 559.5h1M763 560.5h1M764 561.5h2M766.5 562v2M767.5 564v2M768.5 566v2M769.5 568v2M770.5 570v2M771 571.5h4M775 572.5h1M776 573.5h1M777 574.5h1M778.5 575v2M779.5 577v2M780.5 579v3M781.5 582v2M782.5 584v2M783 585.5h1M784 586.5h7M790 585.5h1M791.5 583v2M792.5 581v2M793.5 579v2M794.5 577v2M795 577.5h5M800 578.5h4M804 579.5h5M809 578.5h3M812 579.5h3M815 580.5h1M816 581.5h2M818 582.5h2M820 583.5h4M824 584.5h3M827 585.5h2M829 586.5h2M831 587.5h2M833 588.5h3M836 587.5h2M838 586.5h1M839 587.5h1M840 588.5h2M842 589.5h2M844 590.5h3M847.5 591v2M848.5 593v2M849.5 595v2M850 597.5h2M852 598.5h4M856 599.5h3M859 600.5h1M860 601.5h2M862 602.5h2M864 603.5h5M869 602.5h4M873 601.5h2M875.5 599v2M876.5 597v2M877.5 595v2M878.5 593v2M879 592.5h1M880.5 590v2M881 589.5h1M882 588.5h1M883 589.5h2M885 590.5h2M887.5 591v2M888 593.5h1M889.5 594v2M890 596.5h2M892 597.5h5M897 596.5h2M898 595.5h1M899.5 593v2M900.5 590v3M901.5 588v2M902.5 586v2M903 585.5h1M904.5 583v2M905 582.5h1M906 581.5h1M907 582.5h2M909 583.5h2M911 584.5h2M913 585.5h3M916 586.5h7M923 587.5h1M924 588.5h2M926 589.5h1M927 590.5h1M928 591.5h2M930 592.5h1M931 593.5h1M932.5 594v2M933 596.5h1M934 597.5h2M936 596.5h2M938 595.5h2M940 596.5h4M944 597.5h3M947 598.5h2M949 599.5h2M951 600.5h1M952 601.5h1M953 602.5h1M954 603.5h1M955.5 601v2M956.5 599v2M957.5 597v2M958 596.5h1M959.5 597v2M960.5 599v2M961.5 601v2M962.5 603v2M962 603.5h1M963.5 600v3M964.5 598v2M965.5 595v3M966.5 593v2M967 593.5h4M970 592.5h1M971.5 589v3M972.5 585v4M973.5 582v3M974.5 580v2M975 580.5h4M979 581.5h2M981 582.5h2M983 581.5h1M984 580.5h1M985 579.5h1M986 578.5h3M989 577.5h3M992 576.5h2M994.5 575v2M995.5 577v4M996.5 581v4M997.5 585v4M998.5 589v3M999 590.5h1M1000.5 588v2M1001 587.5h1M1002.5 586v2M1003.5 588v3M1004.5 591v2M1005.5 593v3M1006.5 596v2M1007 598.5h1M1008 599.5h1M1009 600.5h1M1010 601.5h6M1016 602.5h3M1019 603.5h1M1020 604.5h2M1022 605.5h1M1023 606.5h1M1024 607.5h2M1026 608.5h1M1027 607.5h2M1029 606.5h1M1030 605.5h2M1032 606.5h8M1040 607.5h3M1042 606.5h1M1043.5 602v4M1044.5 599v3M1045.5 595v4M1046.5 593v2M1047 593.5h1M1048 592.5h2M1050 591.5h1M1051.5 589v2M1052 588.5h1M1053.5 586v2M1054 585.5h1M1055 584.5h1M1056 583.5h1M1057 582.5h1M1058 581.5h1M1059 580.5h1M1060 579.5h1M1061 578.5h1M1062 577.5h1M1063 578.5h1M1064 579.5h2M1066 580.5h6M1072 581.5h3M1075 582.5h1M1076 583.5h1M1077 584.5h1M1078 585.5h1M1079 586.5h2M1081 587.5h6M1087.5 585v2M1088.5 583v2M1089.5 581v2M1090 580.5h1M1091 579.5h1M1092.5 577v2M1093 576.5h1M1094 575.5h2M1096 574.5h2M1098 573.5h1M1099 572.5h1M1100 571.5h1M1101 570.5h1M1102 569.5h2M1104 568.5h2M1106 567.5h7M1113 566.5h3M1116 565.5h2M1118 564.5h1M1119.5 565v2M1120.5 567v2M1121.5 569v2M1122 571.5h2M1124 572.5h3M1127 571.5h2M1129 570.5h1M1130 569.5h2M1132 570.5h4M1136 569.5h2M1138 568.5h1M1139.5 569v2M1140.5 571v2M1141.5 573v2M1142.5 575v2M1143 575.5h2M1145 574.5h1M1146 573.5h1M1147 572.5h1M1148 571.5h1M1149 570.5h1M1150 569.5h1M1151 570.5h2M1153 571.5h4M1157 570.5h2M1159 569.5h1M1160 568.5h1M1161 567.5h1M1162 566.5h2M1164 565.5h2M1166 564.5h2M1168 563.5h2M1170 562.5h2M1172 563.5h3M1174 564.5h1M1175.5 565v2M1176.5 567v2M1177.5 569v2M1178.5 571v2M1179 572.5h1M1180 573.5h7M1187 572.5h2M1189 571.5h1M1190 570.5h1M1191 571.5h1M1192 572.5h2M1194 573.5h1M1195 572.5h1M1196.5 570v2M1197 569.5h1M1198 568.5h1M1199 567.5h2M1201 566.5h1M1202 565.5h1M1203 566.5h2M1205 567.5h6" fill="none" stroke="#1e90ff" stroke-width="1"/>
</g>
<g clip-path="url(#cd)">
<rect x="6" y="651" width="1" height="11" fill="#c0c0c0"/>
<rect x="10" y="651" width="1" height="11" fill="#c0c0c0"/>
<rect x="14" y="651" width="1" height="9" fill="#c0c0c0"/>
<rect x="18" y="651" width="1" height="9" fill="#c0c0c0"/>
<rect x="22" y="651" width="1" height="8" fill="#c0c0c0"/>
<rect x="26" y="651" width="1" height="7" fill="#c0c0c0"/>
<rect x="30" y="651" width="1" height="6" fill="#c0c0c0"/>
<rect x="34" y="651" width="1" height="5" fill="#c0c0c0"/>
<rect x="38" y="651" width="1" height="3" fill="#c0c0c0"/>
<rect x="42" y="651" width="1" height="2" fill="#c0c0c0"/>
<rect x="46" y="651" width="1" height="1" fill="#c0c0c0"/>
<rect x="50" y="651" width="1" height="1" fill="#c0c0c0"/>
<rect x="54" y="650" width="1" height="1" fill="#c0c0c0"/>
<rect x="58" y="650" width="1" height="1" fill="#c0c0c0"/>
<rect x="62" y="650" width="1" height="1" fill="#c0c0c0"/>
<rect x="66" y="651" width="1" height="1" fill="#c0c0c0"/>
<rect x="70" y="651" width="1" height="1" fill="#c0c0c0"/>
<rect x="74" y="651" width="1" height="3" fill="#c0c0c0"/>
<rect x="78" y="651" width="1" height="4" fill="#c0c0c0"/>
<rect x="82" y="651" width="1" height="5" fill="#c0c0c0"/>
<rect x="86" y="651" width="1" height="6" fill="#c0c0c0"/>
<rect x="90" y="651" width="1" height="6" fill="#c0c0c0"/>
<rect x="94" y="651" width="1" height="5" fill="#c0c0c0"/>
<rect x="98" y="651" width="1" height="5" fill="#c0c0c0"/>
<rect x="102" y="651" width="1" height="4" fill="#c0c0c0"/>
<rect x="106" y="651" width="1" height="2" fill="#c0c0c0"/>
<rect x="110" y="651" width="1" height="1" fill="#c0c0c0"/>
<rect x="114" y="651" width="1" height="1" fill="#c0c0c0"/>
<rect x="118" y="649" width="1" height="2" fill="#c0c0c0"/>
<rect x="122" y="648" width="1" height="3" fill="#c0c0c0"/>
<rect x="126" y="647" width="1" height="4" fill="#c0c0c0"/>
<rect x="130" y="647" width="1" height="4" fill="#c0c0c0"/>
<rect x="134" y="647" width="1" height="4" fill="#c0c0c0"/>
<rect x="138" y="646" width="1" height="5" fill="#c0c0c0"/>
<rect x="142" y="646" width="1" height="5" fill="#c0c0c0"/>
<rect x="146" y="646" width="1" height="5" fill="#c0c0c0"/>
<rect x="150" y="647" width="1" height="4" fill="#c0c0c0"/>
<rect x="154" y="647" width="1" height="4" fill="#c0c0c0"/>
<rect x="158" y="649" width="1" height="2" fill="#c0c0c0"/>
<rect x="162" y="649" width="1" height="2" fill="#c0c0c0"/>
<rect x="166" y="649" width="1" height="2" fill="#c0c0c0"/>
<rect x="170" y="648" width="1" height="3" fill="#c0c0c0"/>
<rect x="174" y="648" width="1" height="3" fill="#c0c0c0"/>
<rect x="178" y="647" width="1" height="4" fill="#c0c0c0"/>
<rect x="182" y="646" width="1" height="5" fill="#c0c0c0"/>
<rect x="186" y="646" width="1" height="5" fill="#c0c0c0"/>
<rect x="190" y="646" width="1" height="5" fill="#c0c0c0"/>
<rect x="194" y="646" width="1" height="5" fill="#c0c0c0"/>
<rect x="198" y="645" width="1" height="6" fill="#c0c0c0"/>
<rect x="202" y="645" width="1" height="6" fill="#c0c0c0"/>
<rect x="206" y="646" width="1" height="5" fill="#c0c0c0"/>
<rect x="210" y="647" width="1" height="4" fill="#c0c0c0"/>
<rect x="214" y="649" width="1" height="2" fill="#c0c0c0"/>
<rect x="218" y="651" width="1" height="1" fill="#c0c0c0"/>
<rect x="222" y="651" width="1" height="2" fill="#c0c0c0"/>
<rect x="226" y="651" width="1" height="3" fill="#c0c0c0"/>
<rect x="230" y="651" width="1" height="5" fill="#c0c0c0"/>
<rect x="234" y="651" width="1" height="6" fill="#c0c0c0"/>
<rect x="238" y="651" width="1" height="7" fill="#c0c0c0"/>
<rect x="242" y="651" width="1" height="9" fill="#c0c0c0"/>
<rect x="246" y="651" width="1" height="11" fill="#c0c0c0"/>
<rect x="250" y="651" width="1" height="13" fill="#c0c0c0"/>
<rect x="254" y="651" width="1" height="14" fill="#c0c0c0"/>
<rect x="258" y="651" width="1" height="15" fill="#c0c0c0"/>
<rect x="262" y="651" width="1" height="15" fill="#c0c0c0"/>
<rect x="266" y="651" width="1" height="15" fill="#c0c0c0"/>
<rect x="270" y="651" width="1" height="14" fill="#c0c0c0"/>
<rect x="274" y="651" width="1" height="15" fill="#c0c0c0"/>
<rect x="278" y="651" width="1" height="14" fill="#c0c0c0"/>
<rect x="282" y="651" width="1" height="15" fill="#c0c0c0"/>
<rect x="286" y="651" width="1" height="14" fill="#c0c0c0"/>
<rect x="290" y="651" width="1" height="13" fill="#c0c0c0"/>
<rect x="294" y="651" width="1" height="12" fill="#c0c0c0"/>
<rect x="298" y="651" width="1" height="12" fill="#c0c0c0"/>
<rect x="302" y="651" width="1" height="11" fill="#c0c0c0"/>
<rect x="306" y="651" width="1" height="10" fill="#c0c0c0"/>
<rect x="310" y="651" width="1" height="10" fill="#c0c0c0"/>
<rect x="314" y="651" width="1" height="10" fill="#c0c0c0"/>
<rect x="318" y="651" width="1" height="10" fill="#c0c0c0"/>
<rect x="322" y="651" width="1" height="9" fill="#c0c0c0"/>
<rect x="326" y="651" width="1" height="9" fill="#c0c0c0"/>
<rect x="330" y="651" width="1" height="9" fill="#c0c0c0"/>
<rect x="334" y="651" width="1" height="9" fill="#c0c0c0"/>
<rect x="338" y="651" width="1" height="9" fill="#c0c0c0"/>
<rect x="342" y="651" width="1" height="9" fill="#c0c0c0"/>
<rect x="346" y="651" width="1" height="9" fill="#c0c0c0"/>
<rect x="350" y="651" width="1" height="8" fill="#c0c0c0"/>
<rect x="354" y="651" width="1" height="7" fill="#c0c0c0"/>
<rect x="358" y="651" width="1" height="5" fill="#c0c0c0"/>
<rect x="362" y="651" width="1" height="2" fill="#c0c0c0"/>
<rect x="366" y="651" width="1" height="1" fill="#c0c0c0"/>
<rect x="370" y="650" width="1" height="1" fill="#c0c0c0"/>
<rect x="374" y="649" width="1" height="2" fill="#c0c0c0"/>
<rect x="378" y="648" width="1" height="3" fill="#c0c0c0"/>
<rect x="382" y="647" width="1" height="4" fill="#c0c0c0"/>
<rect x="386" y="646" width="1" height="5" fill="#c0c0c0"/>
<rect x="390" y="645" width="1" height="6" fill="#c0c0c0"/>
<rect x="394" y="645" width="1" height="6" fill="#c0c0c0"/>
<rect x="398" y="646" width="1" height="5" fill="#c0c0c0"/>
<rect x="402" y="646" width="1" height="5" fill="#c0c0c0"/>
<rect x="406" y="647" width="1" height="4" fill="#c0c0c0"/>
<rect x="410" y="649" width="1" height="2" fill="#c0c0c0"/>
<rect x="414" y="651" width="1" height="1" fill="#c0c0c0"/>
<rect x="418" y="651" width="1" height="1" fill="#c0c0c0"/>
<rect x="422" y="651" width="1" height="1" fill="#c0c0c0"/>
<rect x="426" y="651" width="1" height="2" fill="#c0c0c0"/>
<rect x="430" y="651" width="1" height="3" fill="#c0c0c0"/>
<rect x="434" y="651" width="1" height="4" fill="#c0c0c0"/>
<rect x="438" y="651" width="1" height="4" fill="#c0c0c0"/>
<rect x="442" y="651" width="1" height="5" fill="#c0c0c0"/>
<rect x="446" y="651" width="1" height="6" fill="#c0c0c0"/>
<rect x="450" y="651" width="1" height="7" fill="#c0c0c0"/>
<rect x="454" y="651" width="1" height="6" fill="#c0c0c0"/>
<rect x="458" y="651" width="1" height="6" fill="#c0c0c0"/>
<rect x="462" y="651" width="1" height="5" fill="#c0c0c0"/>
<rect x="466" y="651" width="1" height="5" fill="#c0c0c0"/>
<rect x="470" y="651" width="1" height="5" fill="#c0c0c0"/>
<rect x="474" y="651" width="1" height="5" fill="#c0c0c0"/>
<rect x="478" y="651" width="1" height="5" fill="#c0c0c0"/>
<rect x="482" y="651" width="1" height="3" fill="#c0c0c0"/>
<rect x="486" y="651" width="1" height="2" fill="#c0c0c0"/>
<rect x="490" y="651" width="1" height="2" fill="#c0c0c0"/>
<rect x="494" y="651" width="1" height="2" fill="#c0c0c0"/>
<rect x="498" y="651" width="1" height="2" fill="#c0c0c0"/>
<rect x="502" y="651" width="1" height="1" fill="#c0c0c0"/>
<rect x="506" y="650" width="1" height="1" fill="#c0c0c0"/>
<rect x="510" y="648" width="1" height="3" fill="#c0c0c0"/>
<rect x="514" y="647" width="1" height="4" fill="#c0c0c0"/>
<rect x="518" y="646" width="1" height="5" fill="#c0c0c0"/>
<rect x="522" y="646" width="1" height="5" fill="#c0c0c0"/>
<rect x="526" y="646" width="1" height="5" fill="#c0c0c0"/>
<rect x="530" y="646" width="1" height="5" fill="#c0c0c0"/>
<rect x="534" y="647" width="1" height="4" fill="#c0c0c0"/>
<rect x="538" y="647" width="1" height="4" fill="#c0c0c0"/>
<rect x="542" y="646" width="1" height="5" fill="#c0c0c0"/>
<rect x="546" y="645" width="1" height="6" fill="#c0c0c0"/>
<rect x="550" y="645" width="1" height="6" fill="#c0c0c0"/>
<rect x="554" y="644" width="1" height="7" fill="#c0c0c0"/>
<rect x="558" y="643" width="1" height="8" fill="#c0c0c0"/>
<rect x="562" y="643" width="1" height="8" fill="#c0c0c0"/>
<rect x="566" y="643" width="1" height="8" fill="#c0c0c0"/>
<rect x="570" y="643" width="1" height="8" fill="#c0c0c0"/>
<rect x="574" y="644" width="1" height="7" fill="#c0c0c0"/>
<rect x="578" y="645" width="1" height="6" fill="#c0c0c0"/>
<rect x="582" y="646" width="1" height="5" fill="#c0c0c0"/>
<rect x="586" y="646" width="1" height="5" fill="#c0c0c0"/>
<rect x="590" y="647" width="1" height="4" fill="#c0c0c0"/>
<rect x="594" y="648" width="1" height="3" fill="#c0c0c0"/>
<rect x="598" y="650" width="1" height="1" fill="#c0c0c0"/>
<rect x="602" y="651" width="1" height="1" fill="#c0c0c0"/>
<rect x="606" y="651" width="1" height="1" fill="#c0c0c0"/>
<rect x="610" y="651" width="1" height="1" fill="#c0c0c0"/>
<rect x="614" y="651" width="1" height="1" fill="#c0c0c0"/>
<rect x="618" y="651" width="1" height="2" fill="#c0c0c0"/>
<rect x="622" y="651" width="1" height="2" fill="#c0c0c0"/>
<rect x="626" y="651" width="1" height="3" fill="#c0c0c0"/>
<rect x="630" y="651" width="1" height="3" fill="#c0c0c0"/>
<rect x="634" y="651" width="1" height="4" fill="#c0c0c0"/>
<rect x="638" y="651" width="1" height="4" fill="#c0c0c0"/>
<rect x="642" y="651" width="1" height="4" fill="#c0c0c0"/>
<rect x="646" y="651" width="1" height="5" fill="#c0c0c0"/>
<rect x="650" y="651" width="1" height="5" fill="#c0c0c0"/>
<rect x="654" y="651" width="1" height="5" fill="#c0c0c0"/>
<rect x="658" y="651" width="1" height="4" fill="#c0c0c0"/>
<rect x="662" y="651" width="1" height="3" fill="#c0c0c0"/>
<rect x="666" y="651" width="1" height="1" fill="#c0c0c0"/>
<rect x="670" y="651" width="1" height="1" fill="#c0c0c0"/>
<rect x="674" y="651" width="1" height="1" fill="#c0c0c0"/>
<rect x="678" y="651" width="1" height="1" fill="#c0c0c0"/>
<rect x="682" y="650" width="1" height="1" fill="#c0c0c0"/>
<rect x="686" y="651" width="1" height="1" fill="#c0c0c0"/>
<rect x="690" y="650" width="1" height="1" fill="#c0c0c0"/>
<rect x="694" y="648" width="1" height="3" fill="#c0c0c0"/>
<rect x="698" y="648" width="1" height="3" fill="#c0c0c0"/>
<rect x="702" y="647" width="1" height="4" fill="#c0c0c0"/>
<rect x="706" y="646" width="1" height="5" fill="#c0c0c0"/>
<rect x="710" y="647" width="1" height="4" fill="#c0c0c0"/>
<rect x="714" y="647" width="1" height="4" fill="#c0c0c0"/>
<rect x="718" y="647" width="1" height="4" fill="#c0c0c0"/>
<rect x="722" y="646" width="1" height="5" fill="#c0c0c0"/>
<rect x="726" y="646" width="1" height="5" fill="#c0c0c0"/>
<rect x="730" y="645" width="1" height="6" fill="#c0c0c0"/>
<rect x="734" y="644" width="1" height="7" fill="#c0c0c0"/>
<rect x="738" y="644" width="1" height="7" fill="#c0c0c0"/>
<rect x="742" y="644" width="1" height="7" fill="#c0c0c0"/>
<rect x="746" y="642" width="1" height="9" fill="#c0c0c0"/>
<rect x="750" y="642" width="1" height="9" fill="#c0c0c0"/>
<rect x="754" y="641" width="1" height="10" fill="#c0c0c0"/>
<rect x="758" y="639" width="1" height="12" fill="#c0c0c0"/>
<rect x="762" y="639" width="1" height="12" fill="#c0c0c0"/>
<rect x="766" y="639" width="1" height="12" fill="#c0c0c0"/>
<rect x="770" y="640" width="1" height="11" fill="#c0c0c0"/>
<rect x="774" y="641" width="1" height="10" fill="#c0c0c0"/>
<rect x="778" y="642" width="1" height="9" fill="#c0c0c0"/>
<rect x="782" y="645" width="1" height="6" fill="#c0c0c0"/>
<rect x="786" y="647" width="1" height="4" fill="#c0c0c0"/>
<rect x="790" y="649" width="1" height="2" fill="#c0c0c0"/>
<rect x="794" y="650" width="1" height="1" fill="#c0c0c0"/>
<rect x="798" y="650" width="1" height="1" fill="#c0c0c0"/>
<rect x="802" y="650" width="1" height="1" fill="#c0c0c0"/>
<rect x="806" y="651" width="1" height="1" fill="#c0c0c0"/>
<rect x="810" y="651" width="1" height="1" fill="#c0c0c0"/>
<rect x="814" y="651" width="1" height="1" fill="#c0c0c0"/>
<rect x="818" y="651" width="1" height="1" fill="#c0c0c0"/>
<rect x="822" y="651" width="1" height="1" fill="#c0c0c0"/>
<rect x="826" y="651" width="1" height="2" fill="#c0c0c0"/>
<rect x="830" y="651" width="1" height="3" fill="#c0c0c0"/>
<rect x="834" y="651" width="1" height="3" fill="#c0c0c0"/>
<rect x="838" y="651" width="1" height="4" fill="#c0c0c0"/>
<rect x="842" y="651" width="1" height="5" fill="#c0c0c0"/>
<rect x="846" y="651" width="1" height="5" fill="#c0c0c0"/>
<rect x="850" y="651" width="1" height="7" fill="#c0c0c0"/>
<rect x="854" y="651" width="1" height="9" fill="#c0c0c0"/>
<rect x="858" y="651" width="1" height="10" fill="#c0c0c0"/>
<rect x="862" y="651" width="1" height="12" fill="#c0c0c0"/>
<rect x="866" y="651" width="1" height="13" fill="#c0c0c0"/>
<rect x="870" y="651" width="1" height="14" fill="#c0c0c0"/>
<rect x="874" y="651" width="1" height="14" fill="#c0c0c0"/>
<rect x="878" y="651" width="1" height="14" fill="#c0c0c0"/>
<rect x="882" y="651" width="1" height="13" fill="#c0c0c0"/>
<rect x="886" y="651" width="1" height="12" fill="#c0c0c0"/>
<rect x="890" y="651" width="1" height="13" fill="#c0c0c0"/>
<rect x="894" y="651" width="1" height="13" fill="#c0c0c0"/>
<rect x="898" y="651" width="1" height="13" fill="#c0c0c0"/>
<rect x="902" y="651" width="1" height="13" fill="#c0c0c0"/>
<rect x="906" y="651" width="1" height="11" fill="#c0c0c0"/>
<rect x="910" y="651" width="1" height="10" fill="#c0c0c0"/>
<rect x="914" y="651" width="1" height="10" fill="#c0c0c0"/>
<rect x="918" y="651" width="1" height="9" fill="#c0c0c0"/>
<rect x="922" y="651" width="1" height="9" fill="#c0c0c0"/>
<rect x="926" y="651" width="1" height="9" fill="#c0c0c0"/>
<rect x="930" y="651" width="1" height="9" fill="#c0c0c0"/>
<rect x="934" y="651" width="1" height="10" fill="#c0c0c0"/>
<rect x="938" y="651" width="1" height="11" fill="#c0c0c0"/>
<rect x="942" y="651" width="1" height="11" fill="#c0c0c0"/>
<rect x="946" y="651" width="1" height="12" fill="#c0c0c0"/>
<rect x="950" y="651" width="1" height="12" fill="#c0c0c0"/>
<rect x="954" y="651" width="1" height="14" fill="#c0c0c0"/>
<rect x="958" y="651" width="1" height="14" fill="#c0c0c0"/>
<rect x="962" y="651" width="1" height="17" fill="#c0c0c0"/>
<rect x="966" y="651" width="1" height="17" fill="#c0c0c0"/>
<rect x="970" y="651" width="1" height="18" fill="#c0c0c0"/>
<rect x="974" y="651" width="1" height="15" fill="#c0c0c0"/>
<rect x="978" y="651" width="1" height="14" fill="#c0c0c0"/>
<rect x="982" y="651" width="1" height="12" fill="#c0c0c0"/>
<rect x="986" y="651" width="1" height="11" fill="#c0c0c0"/>
<rect x="990" y="651" width="1" height="9" fill="#c0c0c0"/>
<rect x="994" y="651" width="1" height="7" fill="#c0c0c0"/>
<rect x="998" y="651" width="1" height="10" fill="#c0c0c0"/>
<rect x="1002" y="651" width="1" height="11" fill="#c0c0c0"/>
<rect x="1006" y="651" width="1" height="17" fill="#c0c0c0"/>
<rect x="1010" y="651" width="1" height="23" fill="#c0c0c0"/>
<rect x="1014" y="651" width="1" height="29" fill="#c0c0c0"/>
<rect x="1018" y="651" width="1" height="33" fill="#c0c0c0"/>
<rect x="1022" y="651" width="1" height="39" fill="#c0c0c0"/>
<rect x="1026" y="651" width="1" height="47" fill="#c0c0c0"/>
<rect x="1030" y="651" width="1" height="52" fill="#c0c0c0"/>
<rect x="1034" y="651" width="1" height="55" fill="#c0c0c0"/>
<rect x="1038" y="651" width="1" height="58" fill="#c0c0c0"/>
<rect x="1042" y="651" width="1" height="61" fill="#c0c0c0"/>
<rect x="1046" y="651" width="1" height="59" fill="#c0c0c0"/>
<rect x="1050" y="651" width="1" height="56" fill="#c0c0c0"/>
<rect x="1054" y="651" width="1" height="50" fill="#c0c0c0"/>
<rect x="1058" y="651" width="1" height="44" fill="#c0c0c0"/>
<rect x="1062" y="651" width="1" height="37" fill="#c0c0c0"/>
<rect x="1066" y="651" width="1" height="33" fill="#c0c0c0"/>
<rect x="1070" y="651" width="1" height="29" fill="#c0c0c0"/>
<rect x="1074" y="651" width="1" height="26" fill="#c0c0c0"/>
<rect x="1078" y="651" width="1" height="25" fill="#c0c0c0"/>
<rect x="1082" y="651" width="1" height="25" fill="#c0c0c0"/>
<rect x="1086" y="651" width="1" height="24" fill="#c0c0c0"/>
<rect x="1090" y="651" width="1" height="22" fill="#c0c0c0"/>
<rect x="1094" y="651" width="1" height="17" fill="#c0c0c0"/>
<rect x="1098" y="651" width="1" height="13" fill="#c0c0c0"/>
<rect x="1102" y="651" width="1" height="8" fill="#c0c0c0"/>
<rect x="1106" y="651" width="1" height="2" fill="#c0c0c0"/>
<rect x="1110" y="649" width="1" height="2" fill="#c0c0c0"/>
<rect x="1114" y="645" width="1" height="6" fill="#c0c0c0"/>
<rect x="1118" y="642" width="1" height="9" fill="#c0c0c0"/>
<rect x="1122" y="641" width="1" height="10" fill="#c0c0c0"/>
<rect x="1126" y="641" width="1" height="10" fill="#c0c0c0"/>
<rect x="1130" y="640" width="1" height="11" fill="#c0c0c0"/>
<rect x="1134" y="639" width="1" height="12" fill="#c0c0c0"/>
<rect x="1138" y="638" width="1" height="13" fill="#c0c0c0"/>
<rect x="1142" y="639" width="1" height="12" fill="#c0c0c0"/>
<rect x="1146" y="640" width="1" height="11" fill="#c0c0c0"/>
<rect x="1150" y="639" width="1" height="12" fill="#c0c0c0"/>
<rect x="1154" y="639" width="1" height="12" fill="#c0c0c0"/>
<rect x="1158" y="638" width="1" height="13" fill="#c0c0c0"/>
<rect x="1162" y="637" width="1" height="14" fill="#c0c0c0"/>
<rect x="1166" y="635" width="1" height="16" fill="#c0c0c0"/>
<rect x="1170" y="632" width="1" height="19" fill="#c0c0c0"/>
<rect x="1174" y="631" width="1" height="20" fill="#c0c0c0"/>
<rect x="1178" y="633" width="1" height="18" fill="#c0c0c0"/>
<rect x="1182" y="634" width="1" height="17" fill="#c0c0c0"/>
<rect x="1186" y="636" width="1" height="15" fill="#c0c0c0"/>
<rect x="1190" y="636" width="1" height="15" fill="#c0c0c0"/>
<rect x="1194" y="637" width="1" height="14" fill="#c0c0c0"/>
<rect x="1198" y="637" width="1" height="14" fill="#c0c0c0"/>
<rect x="1202" y="635" width="1" height="16" fill="#c0c0c0"/>
<rect x="1206" y="635" width="1" height="16" fill="#c0c0c0"/>
<rect x="1210" y="634" width="1" height="17" fill="#c0c0c0"/>
<path d="M2 664.5h1M6 664.5h3M12 664.5h3M18 663.5h3M24 662.5h3M30 661.5h3M36 660.5h1M37 659.5h2M42 658.5h3M48 657.5h1M49 656.5h2M54 655.5h3M60 654.5h1M61 653.5h2M66 652.5h3M72 652.5h3M78 652.5h3M84 653.5h3M90 654.5h3M96 655.5h3M102 655.5h3M108 655.5h3M114 655.5h3M120 654.5h1M121 653.5h2M126 652.5h3M132 651.5h1M133 650.5h2M138 649.5h3M144 648.5h3M150 647.5h3M156 647.5h3M162 647.5h3M168 648.5h3M174 648.5h3M180 648.5h3M186 648.5h3M192 648.5h1M193 647.5h2M198 647.5h3M204 646.5h3M210 646.5h3M216 647.5h3M222 648.5h3M228 649.5h1M229 650.5h2M234 651.5h2M236 652.5h1M240 653.5h1M241 654.5h2M246 656.5h2M248 657.5h1M252 658.5h1M253 659.5h2M258 660.5h1M259 661.5h2M264 663.5h3M270 664.5h3M276 665.5h3M282 665.5h2M284 666.5h1M288 666.5h1M289 665.5h2M294 665.5h3M300 665.5h1M301 664.5h2M306 664.5h3M312 663.5h3M318 662.5h3M324 662.5h1M325 661.5h2M330 661.5h3M336 661.5h3M342 660.5h3M348 660.5h3M354 660.5h3M360 659.5h3M366 658.5h2M368 657.5h1M372 656.5h1M373 655.5h2M378 654.5h2M380 653.5h1M384 652.5h1M385 651.5h2M390 650.5h2M392 649.5h1M396 648.5h3M402 647.5h3M408 647.5h3M414 647.5h2M416 648.5h1M420 648.5h3M426 649.5h2M428 650.5h1M432 651.5h3M438 652.5h2M440 653.5h1M444 654.5h3M450 655.5h3M456 656.5h3M462 656.5h3M468 656.5h3M474 657.5h3M480 657.5h1M481 656.5h2M486 656.5h3M492 655.5h3M498 654.5h3M504 654.5h1M505 653.5h2M510 652.5h3M516 651.5h1M517 650.5h2M522 650.5h3M528 649.5h1M529 648.5h2M534 648.5h3M540 647.5h3M546 646.5h3M552 646.5h3M558 645.5h3M564 645.5h3M570 644.5h3M576 644.5h3M582 644.5h3M588 644.5h3M594 645.5h2M596 646.5h1M600 647.5h3M606 648.5h2M608 649.5h1M612 649.5h3M618 650.5h2M620 651.5h1M624 652.5h3M630 652.5h2M632 653.5h1M636 653.5h3M642 654.5h3M648 655.5h3M654 655.5h3M660 655.5h3M666 655.5h3M672 655.5h1M673 654.5h2M678 654.5h3M684 653.5h3M690 652.5h3M696 651.5h1M697 650.5h2M702 650.5h3M708 649.5h3M714 648.5h3M720 648.5h1M721 647.5h2M726 647.5h3M732 647.5h1M733 646.5h2M738 646.5h3M744 645.5h3M750 644.5h3M756 644.5h1M757 643.5h2M762 642.5h3M768 641.5h3M774 641.5h3M780 641.5h3M786 641.5h2M788 642.5h1M792 643.5h3M798 645.5h2M800 646.5h1M804 647.5h3M810 648.5h2M812 649.5h1M816 650.5h3M822 651.5h3M828 651.5h3M834 652.5h3M840 653.5h3M846 654.5h3M852 655.5h3M858 656.5h2M860 657.5h1M864 658.5h1M865 659.5h2M870 660.5h2M872 661.5h1M876 662.5h3M882 663.5h3M888 664.5h3M894 664.5h3M900 664.5h3M906 664.5h3M912 664.5h1M913 663.5h2M918 663.5h3M924 662.5h3M930 661.5h3M936 661.5h3M942 661.5h3M948 661.5h3M954 662.5h3M960 663.5h3M966 664.5h2M968 665.5h1M972 665.5h3M978 666.5h3M984 666.5h3M990 665.5h3M996 664.5h3M1002 663.5h3M1008 664.5h3M1014 665.5h1M1015 666.5h1M1016 667.5h1M1020 670.5h2M1022 671.5h1M1026 675.5h1M1027 676.5h1M1028.5 677v2M1032.5 682v2M1033 684.5h1M1034 685.5h1M1038 690.5h1M1039 691.5h1M1040.5 692v2M1044 697.5h1M1045 698.5h1M1046 699.5h1M1050 702.5h1M1051 703.5h2M1056 705.5h3M1062 704.5h1M1063 703.5h2M1068 700.5h1M1069 699.5h1M1070 698.5h1M1074 695.5h1M1075 694.5h1M1076 693.5h1M1080 689.5h1M1081 688.5h1M1082 687.5h1M1086 684.5h1M1087 683.5h1M1088 682.5h1M1092 679.5h1M1093 678.5h1M1094 677.5h1M1098 675.5h1M1099 674.5h2M1104 671.5h1M1105 670.5h1M1106 669.5h1M1110 666.5h1M1111 665.5h2M1116 661.5h1M1117 660.5h1M1118 659.5h1M1122 655.5h1M1123 654.5h1M1124 653.5h1M1128 650.5h1M1129 649.5h1M1130 648.5h1M1134 645.5h2M1136 644.5h1M1140 642.5h2M1142 641.5h1M1146 640.5h3M1152 640.5h1M1153 639.5h2M1158 639.5h3M1164 639.5h1M1165 638.5h2M1170 637.5h3M1176 637.5h1M1177 636.5h2M1182 635.5h3M1188 635.5h3M1194 635.5h3M1200 635.5h3M1206 635.5h3" fill="none" stroke="#f00" stroke-width="1"/>
</g>
<rect x="5" y="24" width="1517" height="1" fill="#000"/>
<rect x="5" y="24" width="1" height="506" fill="#000"/>
<rect x="5" y="529" width="1517" height="1" fill="#000"/>
<rect x="5" y="531" width="1517" height="1" fill="#000"/>
<rect x="5" y="531" width="1" height="93" fill="#000"/>
<rect x="5" y="623" width="1517" height="1" fill="#000"/>
<rect x="5" y="625" width="1517" height="1" fill="#000"/>
<rect x="5" y="625" width="1" height="93" fill="#000"/>
<rect x="5" y="717" width="1517" height="1" fill="#000"/>
<rect x="1521" y="24" width="1" height="506" fill="#000"/>
<rect x="1521" y="531" width="1" height="93" fill="#000"/>
<rect x="1521" y="625" width="1" height="93" fill="#000"/>
<rect x="5" y="40" width="6" height="6" fill="#f00"/><rect x="7" y="42" width="2" height="2" fill="#fff"/>
<rect x="1515" y="40" width="6" height="6" fill="#f00"/><rect x="1517" y="42" width="2" height="2" fill="#fff"/>
<rect x="5" y="93" width="6" height="6" fill="#f00"/><rect x="7" y="95" width="2" height="2" fill="#fff"/>
<rect x="1515" y="93" width="6" height="6" fill="#f00"/><rect x="1517" y="95" width="2" height="2" fill="#fff"/>
<rect x="5" y="159" width="6" height="6" fill="#f00"/><rect x="7" y="161" width="2" height="2" fill="#fff"/>
<rect x="1515" y="159" width="6" height="6" fill="#f00"/><rect x="1517" y="161" width="2" height="2" fill="#fff"/>
<rect x="5" y="218" width="6" height="6" fill="#0f0"/><rect x="7" y="220" width="2" height="2" fill="#fff"/>
<rect x="1515" y="218" width="6" height="6" fill="#0f0"/><rect x="1517" y="220" width="2" height="2" fill="#fff"/>
<rect x="5" y="278" width="6" height="6" fill="#00f"/><rect x="7" y="280" width="2" height="2" fill="#fff"/>
<rect x="1515" y="278" width="6" height="6" fill="#00f"/><rect x="1517" y="280" width="2" height="2" fill="#fff"/>
<rect x="1522" y="31" width="2" height="1" fill="#000"/>
<rect x="1522" y="64" width="2" height="1" fill="#000"/>
<rect x="1522" y="130" width="2" height="1" fill="#000"/>
<rect x="1522" y="196" width="2" height="1" fill="#000"/>
<rect x="1522" y="229" width="2" height="1" fill="#000"/>
<rect x="1522" y="262" width="2" height="1" fill="#000"/>
<rect x="1522" y="295" width="2" height="1" fill="#000"/>
<rect x="1522" y="328" width="2" height="1" fill="#000"/>
<rect x="1522" y="361" width="2" height="1" fill="#000"/>
<rect x="1522" y="394" width="2" height="1" fill="#000"/>
<rect x="1522" y="427" width="2" height="1" fill="#000"/>
<rect x="1522" y="460" width="2" height="1" fill="#000"/>
<rect x="1522" y="493" width="2" height="1" fill="#000"/>
<rect x="1522" y="526" width="2" height="1" fill="#000"/>
<rect x="1522" y="533" width="1" height="1" fill="#000"/>
<rect x="1522" y="559" width="1" height="1" fill="#000"/>
<rect x="1522" y="595" width="1" height="1" fill="#000"/>
<rect x="1522" y="622" width="1" height="1" fill="#000"/>
<rect x="1522" y="627" width="1" height="1" fill="#000"/>
<rect x="1522" y="651" width="1" height="1" fill="#000"/>
<rect x="1522" y="716" width="1" height="1" fill="#000"/>
<rect x="6" y="718" width="1" height="3" fill="#000"/>
<rect x="70" y="718" width="1" height="3" fill="#000"/>
<rect x="134" y="718" width="1" height="3" fill="#000"/>
<rect x="198" y="718" width="1" height="3" fill="#000"/>
<rect x="262" y="718" width="1" height="3" fill="#000"/>
<rect x="326" y="718" width="1" height="3" fill="#000"/>
<rect x="390" y="718" width="1" height="3" fill="#000"/>
<rect x="454" y="718" width="1" height="3" fill="#000"/>
<rect x="518" y="718" width="1" height="3" fill="#000"/>
<rect x="582" y="718" width="1" height="3" fill="#000"/>
<rect x="646" y="718" width="1" height="3" fill="#000"/>
<rect x="710" y="718" width="1" height="3" fill="#000"/>
<rect x="774" y="718" width="1" height="3" fill="#000"/>
<rect x="838" y="718" width="1" height="3" fill="#000"/>
<rect x="902" y="718" width="1" height="3" fill="#000"/>
<rect x="966" y="718" width="1" height="3" fill="#000"/>
<rect x="1030" y="718" width="1" height="3" fill="#000"/>
<rect x="1094" y="718" width="1" height="3" fill="#000"/>
<rect x="1158" y="718" width="1" height="3" fill="#000"/>
<polygon points="9,31 16,31 12.5,35" fill="#000" shape-rendering="geometricPrecision"/>
<g font-family="'Liberation Sans',sans-serif" font-size="9.8px" text-rendering="geometricPrecision" shape-rendering="geometricPrecision" stroke-width="0.15">
<text x="1526.5" y="35" fill="#000" stroke="#000" textLength="34.0" lengthAdjust="spacingAndGlyphs">0.71400</text>
<text x="1526.5" y="68" fill="#000" stroke="#000" textLength="34.0" lengthAdjust="spacingAndGlyphs">0.70290</text>
<text x="1526.5" y="134" fill="#000" stroke="#000" textLength="34.0" lengthAdjust="spacingAndGlyphs">0.68100</text>
<text x="1526.5" y="200" fill="#000" stroke="#000" textLength="34.0" lengthAdjust="spacingAndGlyphs">0.65880</text>
<text x="1526.5" y="233" fill="#000" stroke="#000" textLength="34.0" lengthAdjust="spacingAndGlyphs">0.64770</text>
<text x="1526.5" y="266" fill="#000" stroke="#000" textLength="34.0" lengthAdjust="spacingAndGlyphs">0.63660</text>
<text x="1526.5" y="299" fill="#000" stroke="#000" textLength="34.0" lengthAdjust="spacingAndGlyphs">0.62550</text>
<text x="1526.5" y="332" fill="#000" stroke="#000" textLength="34.0" lengthAdjust="spacingAndGlyphs">0.61440</text>
<text x="1526.5" y="365" fill="#000" stroke="#000" textLength="34.0" lengthAdjust="spacingAndGlyphs">0.60330</text>
<text x="1526.5" y="398" fill="#000" stroke="#000" textLength="34.0" lengthAdjust="spacingAndGlyphs">0.59220</text>
<text x="1526.5" y="431" fill="#000" stroke="#000" textLength="34.0" lengthAdjust="spacingAndGlyphs">0.58110</text>
<text x="1526.5" y="464" fill="#000" stroke="#000" textLength="34.0" lengthAdjust="spacingAndGlyphs">0.57000</text>
<text x="1526.5" y="497" fill="#000" stroke="#000" textLength="34.0" lengthAdjust="spacingAndGlyphs">0.55890</text>
<text x="1526.5" y="530" fill="#000" stroke="#000" textLength="34.0" lengthAdjust="spacingAndGlyphs">0.54780</text>
<text x="1525" y="542" fill="#000" stroke="#000" textLength="15.6" lengthAdjust="spacingAndGlyphs">100</text>
<text x="1525" y="563" fill="#000" stroke="#000" textLength="10.4" lengthAdjust="spacingAndGlyphs">70</text>
<text x="1525" y="599" fill="#000" stroke="#000" textLength="10.4" lengthAdjust="spacingAndGlyphs">30</text>
<text x="1525" y="620" fill="#000" stroke="#000" textLength="5.2" lengthAdjust="spacingAndGlyphs">0</text>
<text x="1525" y="655" fill="#000" stroke="#000" textLength="18.2" lengthAdjust="spacingAndGlyphs">0.00</text>
<text x="1525" y="636" fill="#000" stroke="#000" textLength="38.0" lengthAdjust="spacingAndGlyphs">0.008815</text>
<text x="1524.6" y="714" fill="#000" stroke="#000" textLength="40.2" lengthAdjust="spacingAndGlyphs">-0.024083</text>
<text x="4.9" y="730" fill="#000" stroke="#000" textLength="55.8" lengthAdjust="spacingAndGlyphs">25 May 2019</text>
<text x="68.9" y="730" fill="#000" stroke="#000" textLength="50.4" lengthAdjust="spacingAndGlyphs">13 Jun 2019</text>
<text x="132.9" y="730" fill="#000" stroke="#000" textLength="42.4" lengthAdjust="spacingAndGlyphs">2 Jul 2019</text>
<text x="196.9" y="730" fill="#000" stroke="#000" textLength="47.8" lengthAdjust="spacingAndGlyphs">20 Jul 2019</text>
<text x="260.9" y="730" fill="#000" stroke="#000" textLength="48.4" lengthAdjust="spacingAndGlyphs">8 Aug 2019</text>
<text x="324.9" y="730" fill="#000" stroke="#000" textLength="53.4" lengthAdjust="spacingAndGlyphs">27 Aug 2019</text>
<text x="388.9" y="730" fill="#000" stroke="#000" textLength="52.4" lengthAdjust="spacingAndGlyphs">14 Sep 2019</text>
<text x="452.9" y="730" fill="#000" stroke="#000" textLength="46.1" lengthAdjust="spacingAndGlyphs">3 Oct 2019</text>
<text x="516.9" y="730" fill="#000" stroke="#000" textLength="51.4" lengthAdjust="spacingAndGlyphs">22 Oct 2019</text>
<text x="580.9" y="730" fill="#000" stroke="#000" textLength="49.7" lengthAdjust="spacingAndGlyphs">9 Nov 2019</text>
<text x="644.9" y="730" fill="#000" stroke="#000" textLength="55.1" lengthAdjust="spacingAndGlyphs">28 Nov 2019</text>
<text x="708.9" y="730" fill="#000" stroke="#000" textLength="52.4" lengthAdjust="spacingAndGlyphs">17 Dec 2019</text>
<text x="772.9" y="730" fill="#000" stroke="#000" textLength="45.1" lengthAdjust="spacingAndGlyphs">4 Jan 2020</text>
<text x="836.9" y="730" fill="#000" stroke="#000" textLength="49.7" lengthAdjust="spacingAndGlyphs">23 Jan 2020</text>
<text x="900.9" y="730" fill="#000" stroke="#000" textLength="51.7" lengthAdjust="spacingAndGlyphs">11 Feb 2020</text>
<text x="964.9" y="730" fill="#000" stroke="#000" textLength="51.8" lengthAdjust="spacingAndGlyphs">29 Feb 2020</text>
<text x="1028.9" y="730" fill="#000" stroke="#000" textLength="51.9" lengthAdjust="spacingAndGlyphs">19 Mar 2020</text>
<text x="1092.9" y="730" fill="#000" stroke="#000" textLength="46.3" lengthAdjust="spacingAndGlyphs">7 Apr 2020</text>
<text x="1156.9" y="730" fill="#000" stroke="#000" textLength="51.3" lengthAdjust="spacingAndGlyphs">25 Apr 2020</text>
<text x="21.5" y="36" fill="#000" stroke="#000" textLength="66.0" lengthAdjust="spacingAndGlyphs">AUDUSD,Daily</text>
<text x="92.7" y="36" fill="#000" stroke="#000" textLength="33.4" lengthAdjust="spacingAndGlyphs">0.65247</text>
<text x="129" y="36" fill="#000" stroke="#000" textLength="33.4" lengthAdjust="spacingAndGlyphs">0.65389</text>
<text x="164.8" y="36" fill="#000" stroke="#000" textLength="33.4" lengthAdjust="spacingAndGlyphs">0.65165</text>
<text x="200.9" y="36" fill="#000" stroke="#000" textLength="33.4" lengthAdjust="spacingAndGlyphs">0.65337</text>
<text x="10" y="544" fill="#000" stroke="#000" textLength="68.0" lengthAdjust="spacingAndGlyphs">RSI(14) 61.7181</text>
<text x="10" y="638" fill="#000" stroke="#000" textLength="148.0" lengthAdjust="spacingAndGlyphs">MACD(12,26,9) 0.006116 0.005860</text>
</g>
<g font-family="'Liberation Sans',sans-serif" font-size="9.8px" text-rendering="geometricPrecision" stroke-width="0.15">
<rect x="1523" y="37" width="39" height="11" fill="#f00"/>
<text x="1526.5" y="46" fill="#fff" stroke="#fff" textLength="34" lengthAdjust="spacingAndGlyphs" shape-rendering="geometricPrecision">0.71016</text>
<rect x="1523" y="90" width="39" height="11" fill="#f00"/>
<text x="1526.5" y="99" fill="#fff" stroke="#fff" textLength="34" lengthAdjust="spacingAndGlyphs" shape-rendering="geometricPrecision">0.69218</text>
<rect x="1523" y="156" width="39" height="11" fill="#f00"/>
<text x="1526.5" y="165" fill="#fff" stroke="#fff" textLength="34" lengthAdjust="spacingAndGlyphs" shape-rendering="geometricPrecision">0.67003</text>
<rect x="1523" y="207" width="39" height="11" fill="#000"/>
<text x="1526.5" y="216" fill="#fff" stroke="#fff" textLength="34" lengthAdjust="spacingAndGlyphs" shape-rendering="geometricPrecision">0.65337</text>
<rect x="1523" y="215" width="39" height="11" fill="#0f0"/>
<text x="1526.5" y="224" fill="#fff" stroke="#fff" textLength="34" lengthAdjust="spacingAndGlyphs" shape-rendering="geometricPrecision">0.65024</text>
<rect x="1523" y="275" width="39" height="11" fill="#00f"/>
<text x="1526.5" y="284" fill="#fff" stroke="#fff" textLength="34" lengthAdjust="spacingAndGlyphs" shape-rendering="geometricPrecision">0.63011</text>
<rect x="1523" y="333" width="39" height="11" fill="#00f"/>
<text x="1526.5" y="342" fill="#fff" stroke="#fff" textLength="34" lengthAdjust="spacingAndGlyphs" shape-rendering="geometricPrecision">0.61065</text>
</g>
<g font-family="'Liberation Sans',sans-serif" font-size="10px" fill="#3a3a3a" text-rendering="geometricPrecision" shape-rendering="geometricPrecision">
<text x="-5.2" y="12" textLength="15" lengthAdjust="spacingAndGlyphs">M5</text>
<text x="22" y="12" textLength="18.5" lengthAdjust="spacingAndGlyphs">M15</text>
<text x="49.5" y="12" textLength="19" lengthAdjust="spacingAndGlyphs">M30</text>
<text x="80.5" y="12" textLength="13" lengthAdjust="spacingAndGlyphs">H1</text>
<text x="108" y="12" textLength="13.5" lengthAdjust="spacingAndGlyphs">H4</text>
<text x="137.5" y="12" textLength="12" lengthAdjust="spacingAndGlyphs">D1</text>
<text x="164.5" y="12" textLength="15" lengthAdjust="spacingAndGlyphs">W1</text>
<text x="191.3" y="12" textLength="15.2" lengthAdjust="spacingAndGlyphs">MN</text>
</g>
<g font-family="'Liberation Sans',sans-serif" font-size="13.3px" fill="#6a6a6a" text-rendering="geometricPrecision" shape-rendering="geometricPrecision">
<text x="19.0" y="755" textLength="80.8" lengthAdjust="spacingAndGlyphs">EURUSD,Daily</text>
<text x="121.2" y="755" textLength="79.4" lengthAdjust="spacingAndGlyphs">USDCHF,Daily</text>
<text x="222.1" y="755" textLength="82.4" lengthAdjust="spacingAndGlyphs" fill="#000">AUDUSD,Daily</text>
<text x="326.6" y="755" textLength="81.1" lengthAdjust="spacingAndGlyphs">USDCAD,Daily</text>
<text x="429.1" y="755" textLength="83.5" lengthAdjust="spacingAndGlyphs">USDCNH,Daily</text>
<text x="534.7" y="755" textLength="81.1" lengthAdjust="spacingAndGlyphs">EURUSD,Daily</text>
<text x="638.5" y="755" textLength="69.5" lengthAdjust="spacingAndGlyphs">GBPUSD,H4</text>
<text x="730.1" y="755" textLength="69.4" lengthAdjust="spacingAndGlyphs">XAUUSD,H4</text>
<text x="822.0" y="755" textLength="50.1" lengthAdjust="spacingAndGlyphs">HK50,H1</text>
<text x="894.2" y="755" textLength="57.1" lengthAdjust="spacingAndGlyphs">UK100,H1</text>
<text x="974.1" y="755" textLength="56.8" lengthAdjust="spacingAndGlyphs">UK100,H1</text>
<text x="1053.7" y="755" textLength="58.1" lengthAdjust="spacingAndGlyphs">GER30,H1</text>
<text x="1133.3" y="755" textLength="54.7" lengthAdjust="spacingAndGlyphs">FRA40,H1</text>
<text x="1209.5" y="755" textLength="51.3" lengthAdjust="spacingAndGlyphs">USOil,H1</text>
<text x="1281.0" y="755" textLength="63.4" lengthAdjust="spacingAndGlyphs">USDJPY,H1</text>
</g>
</svg>
</body></html>
